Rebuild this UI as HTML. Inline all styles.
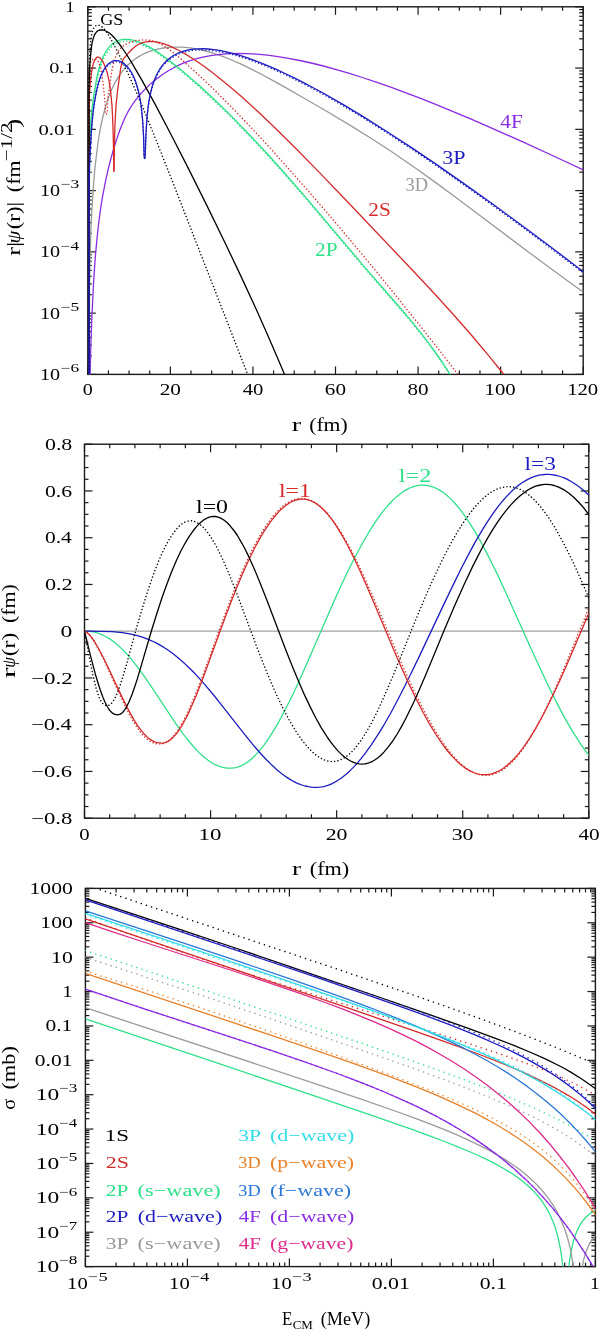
<!DOCTYPE html>
<html><head><meta charset="utf-8"><title>Figure</title><style>html,body{margin:0;padding:0;background:#fff;width:600px;height:1331px;overflow:hidden;}svg{display:block;font-family:"Liberation Serif",serif;font-kerning:none;will-change:transform;}text{font-kerning:none;}</style></head><body><svg width="600" height="1331" viewBox="0 0 600 1331"><defs><clipPath id="c1"><rect x="87.80" y="6.80" width="495.40" height="367.60"/></clipPath><clipPath id="c2"><rect x="84.50" y="444.20" width="504.30" height="374.00"/></clipPath><clipPath id="c3"><rect x="85.40" y="888.40" width="510.00" height="378.20"/></clipPath></defs><line x1="87.80" y1="374.40" x2="87.80" y2="366.40" stroke="#1a1a1a" stroke-width="1.20"/>
<line x1="87.80" y1="6.80" x2="87.80" y2="14.80" stroke="#1a1a1a" stroke-width="1.20"/>
<line x1="108.44" y1="374.40" x2="108.44" y2="370.40" stroke="#1a1a1a" stroke-width="1.20"/>
<line x1="108.44" y1="6.80" x2="108.44" y2="10.80" stroke="#1a1a1a" stroke-width="1.20"/>
<line x1="129.08" y1="374.40" x2="129.08" y2="370.40" stroke="#1a1a1a" stroke-width="1.20"/>
<line x1="129.08" y1="6.80" x2="129.08" y2="10.80" stroke="#1a1a1a" stroke-width="1.20"/>
<line x1="149.72" y1="374.40" x2="149.72" y2="370.40" stroke="#1a1a1a" stroke-width="1.20"/>
<line x1="149.72" y1="6.80" x2="149.72" y2="10.80" stroke="#1a1a1a" stroke-width="1.20"/>
<line x1="170.37" y1="374.40" x2="170.37" y2="366.40" stroke="#1a1a1a" stroke-width="1.20"/>
<line x1="170.37" y1="6.80" x2="170.37" y2="14.80" stroke="#1a1a1a" stroke-width="1.20"/>
<line x1="191.01" y1="374.40" x2="191.01" y2="370.40" stroke="#1a1a1a" stroke-width="1.20"/>
<line x1="191.01" y1="6.80" x2="191.01" y2="10.80" stroke="#1a1a1a" stroke-width="1.20"/>
<line x1="211.65" y1="374.40" x2="211.65" y2="370.40" stroke="#1a1a1a" stroke-width="1.20"/>
<line x1="211.65" y1="6.80" x2="211.65" y2="10.80" stroke="#1a1a1a" stroke-width="1.20"/>
<line x1="232.29" y1="374.40" x2="232.29" y2="370.40" stroke="#1a1a1a" stroke-width="1.20"/>
<line x1="232.29" y1="6.80" x2="232.29" y2="10.80" stroke="#1a1a1a" stroke-width="1.20"/>
<line x1="252.93" y1="374.40" x2="252.93" y2="366.40" stroke="#1a1a1a" stroke-width="1.20"/>
<line x1="252.93" y1="6.80" x2="252.93" y2="14.80" stroke="#1a1a1a" stroke-width="1.20"/>
<line x1="273.57" y1="374.40" x2="273.57" y2="370.40" stroke="#1a1a1a" stroke-width="1.20"/>
<line x1="273.57" y1="6.80" x2="273.57" y2="10.80" stroke="#1a1a1a" stroke-width="1.20"/>
<line x1="294.22" y1="374.40" x2="294.22" y2="370.40" stroke="#1a1a1a" stroke-width="1.20"/>
<line x1="294.22" y1="6.80" x2="294.22" y2="10.80" stroke="#1a1a1a" stroke-width="1.20"/>
<line x1="314.86" y1="374.40" x2="314.86" y2="370.40" stroke="#1a1a1a" stroke-width="1.20"/>
<line x1="314.86" y1="6.80" x2="314.86" y2="10.80" stroke="#1a1a1a" stroke-width="1.20"/>
<line x1="335.50" y1="374.40" x2="335.50" y2="366.40" stroke="#1a1a1a" stroke-width="1.20"/>
<line x1="335.50" y1="6.80" x2="335.50" y2="14.80" stroke="#1a1a1a" stroke-width="1.20"/>
<line x1="356.14" y1="374.40" x2="356.14" y2="370.40" stroke="#1a1a1a" stroke-width="1.20"/>
<line x1="356.14" y1="6.80" x2="356.14" y2="10.80" stroke="#1a1a1a" stroke-width="1.20"/>
<line x1="376.78" y1="374.40" x2="376.78" y2="370.40" stroke="#1a1a1a" stroke-width="1.20"/>
<line x1="376.78" y1="6.80" x2="376.78" y2="10.80" stroke="#1a1a1a" stroke-width="1.20"/>
<line x1="397.43" y1="374.40" x2="397.43" y2="370.40" stroke="#1a1a1a" stroke-width="1.20"/>
<line x1="397.43" y1="6.80" x2="397.43" y2="10.80" stroke="#1a1a1a" stroke-width="1.20"/>
<line x1="418.07" y1="374.40" x2="418.07" y2="366.40" stroke="#1a1a1a" stroke-width="1.20"/>
<line x1="418.07" y1="6.80" x2="418.07" y2="14.80" stroke="#1a1a1a" stroke-width="1.20"/>
<line x1="438.71" y1="374.40" x2="438.71" y2="370.40" stroke="#1a1a1a" stroke-width="1.20"/>
<line x1="438.71" y1="6.80" x2="438.71" y2="10.80" stroke="#1a1a1a" stroke-width="1.20"/>
<line x1="459.35" y1="374.40" x2="459.35" y2="370.40" stroke="#1a1a1a" stroke-width="1.20"/>
<line x1="459.35" y1="6.80" x2="459.35" y2="10.80" stroke="#1a1a1a" stroke-width="1.20"/>
<line x1="479.99" y1="374.40" x2="479.99" y2="370.40" stroke="#1a1a1a" stroke-width="1.20"/>
<line x1="479.99" y1="6.80" x2="479.99" y2="10.80" stroke="#1a1a1a" stroke-width="1.20"/>
<line x1="500.63" y1="374.40" x2="500.63" y2="366.40" stroke="#1a1a1a" stroke-width="1.20"/>
<line x1="500.63" y1="6.80" x2="500.63" y2="14.80" stroke="#1a1a1a" stroke-width="1.20"/>
<line x1="521.27" y1="374.40" x2="521.27" y2="370.40" stroke="#1a1a1a" stroke-width="1.20"/>
<line x1="521.27" y1="6.80" x2="521.27" y2="10.80" stroke="#1a1a1a" stroke-width="1.20"/>
<line x1="541.92" y1="374.40" x2="541.92" y2="370.40" stroke="#1a1a1a" stroke-width="1.20"/>
<line x1="541.92" y1="6.80" x2="541.92" y2="10.80" stroke="#1a1a1a" stroke-width="1.20"/>
<line x1="562.56" y1="374.40" x2="562.56" y2="370.40" stroke="#1a1a1a" stroke-width="1.20"/>
<line x1="562.56" y1="6.80" x2="562.56" y2="10.80" stroke="#1a1a1a" stroke-width="1.20"/>
<line x1="583.20" y1="374.40" x2="583.20" y2="366.40" stroke="#1a1a1a" stroke-width="1.20"/>
<line x1="583.20" y1="6.80" x2="583.20" y2="14.80" stroke="#1a1a1a" stroke-width="1.20"/>
<line x1="87.80" y1="374.40" x2="95.80" y2="374.40" stroke="#1a1a1a" stroke-width="1.20"/>
<line x1="583.20" y1="374.40" x2="575.20" y2="374.40" stroke="#1a1a1a" stroke-width="1.20"/>
<line x1="87.80" y1="355.96" x2="91.80" y2="355.96" stroke="#1a1a1a" stroke-width="1.20"/>
<line x1="583.20" y1="355.96" x2="579.20" y2="355.96" stroke="#1a1a1a" stroke-width="1.20"/>
<line x1="87.80" y1="345.17" x2="91.80" y2="345.17" stroke="#1a1a1a" stroke-width="1.20"/>
<line x1="583.20" y1="345.17" x2="579.20" y2="345.17" stroke="#1a1a1a" stroke-width="1.20"/>
<line x1="87.80" y1="337.51" x2="91.80" y2="337.51" stroke="#1a1a1a" stroke-width="1.20"/>
<line x1="583.20" y1="337.51" x2="579.20" y2="337.51" stroke="#1a1a1a" stroke-width="1.20"/>
<line x1="87.80" y1="331.58" x2="91.80" y2="331.58" stroke="#1a1a1a" stroke-width="1.20"/>
<line x1="583.20" y1="331.58" x2="579.20" y2="331.58" stroke="#1a1a1a" stroke-width="1.20"/>
<line x1="87.80" y1="326.73" x2="91.80" y2="326.73" stroke="#1a1a1a" stroke-width="1.20"/>
<line x1="583.20" y1="326.73" x2="579.20" y2="326.73" stroke="#1a1a1a" stroke-width="1.20"/>
<line x1="87.80" y1="322.62" x2="91.80" y2="322.62" stroke="#1a1a1a" stroke-width="1.20"/>
<line x1="583.20" y1="322.62" x2="579.20" y2="322.62" stroke="#1a1a1a" stroke-width="1.20"/>
<line x1="87.80" y1="319.07" x2="91.80" y2="319.07" stroke="#1a1a1a" stroke-width="1.20"/>
<line x1="583.20" y1="319.07" x2="579.20" y2="319.07" stroke="#1a1a1a" stroke-width="1.20"/>
<line x1="87.80" y1="315.94" x2="91.80" y2="315.94" stroke="#1a1a1a" stroke-width="1.20"/>
<line x1="583.20" y1="315.94" x2="579.20" y2="315.94" stroke="#1a1a1a" stroke-width="1.20"/>
<line x1="87.80" y1="313.13" x2="95.80" y2="313.13" stroke="#1a1a1a" stroke-width="1.20"/>
<line x1="583.20" y1="313.13" x2="575.20" y2="313.13" stroke="#1a1a1a" stroke-width="1.20"/>
<line x1="87.80" y1="294.69" x2="91.80" y2="294.69" stroke="#1a1a1a" stroke-width="1.20"/>
<line x1="583.20" y1="294.69" x2="579.20" y2="294.69" stroke="#1a1a1a" stroke-width="1.20"/>
<line x1="87.80" y1="283.90" x2="91.80" y2="283.90" stroke="#1a1a1a" stroke-width="1.20"/>
<line x1="583.20" y1="283.90" x2="579.20" y2="283.90" stroke="#1a1a1a" stroke-width="1.20"/>
<line x1="87.80" y1="276.25" x2="91.80" y2="276.25" stroke="#1a1a1a" stroke-width="1.20"/>
<line x1="583.20" y1="276.25" x2="579.20" y2="276.25" stroke="#1a1a1a" stroke-width="1.20"/>
<line x1="87.80" y1="270.31" x2="91.80" y2="270.31" stroke="#1a1a1a" stroke-width="1.20"/>
<line x1="583.20" y1="270.31" x2="579.20" y2="270.31" stroke="#1a1a1a" stroke-width="1.20"/>
<line x1="87.80" y1="265.46" x2="91.80" y2="265.46" stroke="#1a1a1a" stroke-width="1.20"/>
<line x1="583.20" y1="265.46" x2="579.20" y2="265.46" stroke="#1a1a1a" stroke-width="1.20"/>
<line x1="87.80" y1="261.36" x2="91.80" y2="261.36" stroke="#1a1a1a" stroke-width="1.20"/>
<line x1="583.20" y1="261.36" x2="579.20" y2="261.36" stroke="#1a1a1a" stroke-width="1.20"/>
<line x1="87.80" y1="257.80" x2="91.80" y2="257.80" stroke="#1a1a1a" stroke-width="1.20"/>
<line x1="583.20" y1="257.80" x2="579.20" y2="257.80" stroke="#1a1a1a" stroke-width="1.20"/>
<line x1="87.80" y1="254.67" x2="91.80" y2="254.67" stroke="#1a1a1a" stroke-width="1.20"/>
<line x1="583.20" y1="254.67" x2="579.20" y2="254.67" stroke="#1a1a1a" stroke-width="1.20"/>
<line x1="87.80" y1="251.87" x2="95.80" y2="251.87" stroke="#1a1a1a" stroke-width="1.20"/>
<line x1="583.20" y1="251.87" x2="575.20" y2="251.87" stroke="#1a1a1a" stroke-width="1.20"/>
<line x1="87.80" y1="233.42" x2="91.80" y2="233.42" stroke="#1a1a1a" stroke-width="1.20"/>
<line x1="583.20" y1="233.42" x2="579.20" y2="233.42" stroke="#1a1a1a" stroke-width="1.20"/>
<line x1="87.80" y1="222.64" x2="91.80" y2="222.64" stroke="#1a1a1a" stroke-width="1.20"/>
<line x1="583.20" y1="222.64" x2="579.20" y2="222.64" stroke="#1a1a1a" stroke-width="1.20"/>
<line x1="87.80" y1="214.98" x2="91.80" y2="214.98" stroke="#1a1a1a" stroke-width="1.20"/>
<line x1="583.20" y1="214.98" x2="579.20" y2="214.98" stroke="#1a1a1a" stroke-width="1.20"/>
<line x1="87.80" y1="209.04" x2="91.80" y2="209.04" stroke="#1a1a1a" stroke-width="1.20"/>
<line x1="583.20" y1="209.04" x2="579.20" y2="209.04" stroke="#1a1a1a" stroke-width="1.20"/>
<line x1="87.80" y1="204.19" x2="91.80" y2="204.19" stroke="#1a1a1a" stroke-width="1.20"/>
<line x1="583.20" y1="204.19" x2="579.20" y2="204.19" stroke="#1a1a1a" stroke-width="1.20"/>
<line x1="87.80" y1="200.09" x2="91.80" y2="200.09" stroke="#1a1a1a" stroke-width="1.20"/>
<line x1="583.20" y1="200.09" x2="579.20" y2="200.09" stroke="#1a1a1a" stroke-width="1.20"/>
<line x1="87.80" y1="196.54" x2="91.80" y2="196.54" stroke="#1a1a1a" stroke-width="1.20"/>
<line x1="583.20" y1="196.54" x2="579.20" y2="196.54" stroke="#1a1a1a" stroke-width="1.20"/>
<line x1="87.80" y1="193.40" x2="91.80" y2="193.40" stroke="#1a1a1a" stroke-width="1.20"/>
<line x1="583.20" y1="193.40" x2="579.20" y2="193.40" stroke="#1a1a1a" stroke-width="1.20"/>
<line x1="87.80" y1="190.60" x2="95.80" y2="190.60" stroke="#1a1a1a" stroke-width="1.20"/>
<line x1="583.20" y1="190.60" x2="575.20" y2="190.60" stroke="#1a1a1a" stroke-width="1.20"/>
<line x1="87.80" y1="172.16" x2="91.80" y2="172.16" stroke="#1a1a1a" stroke-width="1.20"/>
<line x1="583.20" y1="172.16" x2="579.20" y2="172.16" stroke="#1a1a1a" stroke-width="1.20"/>
<line x1="87.80" y1="161.37" x2="91.80" y2="161.37" stroke="#1a1a1a" stroke-width="1.20"/>
<line x1="583.20" y1="161.37" x2="579.20" y2="161.37" stroke="#1a1a1a" stroke-width="1.20"/>
<line x1="87.80" y1="153.71" x2="91.80" y2="153.71" stroke="#1a1a1a" stroke-width="1.20"/>
<line x1="583.20" y1="153.71" x2="579.20" y2="153.71" stroke="#1a1a1a" stroke-width="1.20"/>
<line x1="87.80" y1="147.78" x2="91.80" y2="147.78" stroke="#1a1a1a" stroke-width="1.20"/>
<line x1="583.20" y1="147.78" x2="579.20" y2="147.78" stroke="#1a1a1a" stroke-width="1.20"/>
<line x1="87.80" y1="142.93" x2="91.80" y2="142.93" stroke="#1a1a1a" stroke-width="1.20"/>
<line x1="583.20" y1="142.93" x2="579.20" y2="142.93" stroke="#1a1a1a" stroke-width="1.20"/>
<line x1="87.80" y1="138.82" x2="91.80" y2="138.82" stroke="#1a1a1a" stroke-width="1.20"/>
<line x1="583.20" y1="138.82" x2="579.20" y2="138.82" stroke="#1a1a1a" stroke-width="1.20"/>
<line x1="87.80" y1="135.27" x2="91.80" y2="135.27" stroke="#1a1a1a" stroke-width="1.20"/>
<line x1="583.20" y1="135.27" x2="579.20" y2="135.27" stroke="#1a1a1a" stroke-width="1.20"/>
<line x1="87.80" y1="132.14" x2="91.80" y2="132.14" stroke="#1a1a1a" stroke-width="1.20"/>
<line x1="583.20" y1="132.14" x2="579.20" y2="132.14" stroke="#1a1a1a" stroke-width="1.20"/>
<line x1="87.80" y1="129.33" x2="95.80" y2="129.33" stroke="#1a1a1a" stroke-width="1.20"/>
<line x1="583.20" y1="129.33" x2="575.20" y2="129.33" stroke="#1a1a1a" stroke-width="1.20"/>
<line x1="87.80" y1="110.89" x2="91.80" y2="110.89" stroke="#1a1a1a" stroke-width="1.20"/>
<line x1="583.20" y1="110.89" x2="579.20" y2="110.89" stroke="#1a1a1a" stroke-width="1.20"/>
<line x1="87.80" y1="100.10" x2="91.80" y2="100.10" stroke="#1a1a1a" stroke-width="1.20"/>
<line x1="583.20" y1="100.10" x2="579.20" y2="100.10" stroke="#1a1a1a" stroke-width="1.20"/>
<line x1="87.80" y1="92.45" x2="91.80" y2="92.45" stroke="#1a1a1a" stroke-width="1.20"/>
<line x1="583.20" y1="92.45" x2="579.20" y2="92.45" stroke="#1a1a1a" stroke-width="1.20"/>
<line x1="87.80" y1="86.51" x2="91.80" y2="86.51" stroke="#1a1a1a" stroke-width="1.20"/>
<line x1="583.20" y1="86.51" x2="579.20" y2="86.51" stroke="#1a1a1a" stroke-width="1.20"/>
<line x1="87.80" y1="81.66" x2="91.80" y2="81.66" stroke="#1a1a1a" stroke-width="1.20"/>
<line x1="583.20" y1="81.66" x2="579.20" y2="81.66" stroke="#1a1a1a" stroke-width="1.20"/>
<line x1="87.80" y1="77.56" x2="91.80" y2="77.56" stroke="#1a1a1a" stroke-width="1.20"/>
<line x1="583.20" y1="77.56" x2="579.20" y2="77.56" stroke="#1a1a1a" stroke-width="1.20"/>
<line x1="87.80" y1="74.00" x2="91.80" y2="74.00" stroke="#1a1a1a" stroke-width="1.20"/>
<line x1="583.20" y1="74.00" x2="579.20" y2="74.00" stroke="#1a1a1a" stroke-width="1.20"/>
<line x1="87.80" y1="70.87" x2="91.80" y2="70.87" stroke="#1a1a1a" stroke-width="1.20"/>
<line x1="583.20" y1="70.87" x2="579.20" y2="70.87" stroke="#1a1a1a" stroke-width="1.20"/>
<line x1="87.80" y1="68.07" x2="95.80" y2="68.07" stroke="#1a1a1a" stroke-width="1.20"/>
<line x1="583.20" y1="68.07" x2="575.20" y2="68.07" stroke="#1a1a1a" stroke-width="1.20"/>
<line x1="87.80" y1="49.62" x2="91.80" y2="49.62" stroke="#1a1a1a" stroke-width="1.20"/>
<line x1="583.20" y1="49.62" x2="579.20" y2="49.62" stroke="#1a1a1a" stroke-width="1.20"/>
<line x1="87.80" y1="38.84" x2="91.80" y2="38.84" stroke="#1a1a1a" stroke-width="1.20"/>
<line x1="583.20" y1="38.84" x2="579.20" y2="38.84" stroke="#1a1a1a" stroke-width="1.20"/>
<line x1="87.80" y1="31.18" x2="91.80" y2="31.18" stroke="#1a1a1a" stroke-width="1.20"/>
<line x1="583.20" y1="31.18" x2="579.20" y2="31.18" stroke="#1a1a1a" stroke-width="1.20"/>
<line x1="87.80" y1="25.24" x2="91.80" y2="25.24" stroke="#1a1a1a" stroke-width="1.20"/>
<line x1="583.20" y1="25.24" x2="579.20" y2="25.24" stroke="#1a1a1a" stroke-width="1.20"/>
<line x1="87.80" y1="20.39" x2="91.80" y2="20.39" stroke="#1a1a1a" stroke-width="1.20"/>
<line x1="583.20" y1="20.39" x2="579.20" y2="20.39" stroke="#1a1a1a" stroke-width="1.20"/>
<line x1="87.80" y1="16.29" x2="91.80" y2="16.29" stroke="#1a1a1a" stroke-width="1.20"/>
<line x1="583.20" y1="16.29" x2="579.20" y2="16.29" stroke="#1a1a1a" stroke-width="1.20"/>
<line x1="87.80" y1="12.74" x2="91.80" y2="12.74" stroke="#1a1a1a" stroke-width="1.20"/>
<line x1="583.20" y1="12.74" x2="579.20" y2="12.74" stroke="#1a1a1a" stroke-width="1.20"/>
<line x1="87.80" y1="9.60" x2="91.80" y2="9.60" stroke="#1a1a1a" stroke-width="1.20"/>
<line x1="583.20" y1="9.60" x2="579.20" y2="9.60" stroke="#1a1a1a" stroke-width="1.20"/>
<line x1="87.80" y1="6.80" x2="95.80" y2="6.80" stroke="#1a1a1a" stroke-width="1.20"/>
<line x1="583.20" y1="6.80" x2="575.20" y2="6.80" stroke="#1a1a1a" stroke-width="1.20"/>
<rect x="87.80" y="6.80" width="495.40" height="367.60" fill="none" stroke="#1a1a1a" stroke-width="1.40"/>
<g clip-path="url(#c1)">
<path d="M89 420L89 304.3L89.9 263.7L90.9 230.9L91.7 213.4L92.6 198.6L93.6 184L94.8 169.5L96.1 157.8L97.7 145L99.3 134.4L100.9 125.5L102.6 118L105 108.4L107.4 100.5L109.9 93.8L112.3 88.1L115.5 81.6L118.8 76.3L122 71.7L125.3 67.8L129.3 63.7L133.4 60.3L138.3 56.9L143.1 54.2L148.8 51.7L154.5 49.9L160.2 48.6L163.4 48L167.5 47.5L174.8 47.1L182.1 47.2L190.2 47.9L197.5 49.1L205.7 51L213.8 53.3L222.7 56.4L231.6 60L240.6 63.9L250.3 68.6L260.9 74L272.2 80.1L285.2 87.4L306.3 99.5L325 110.3L351 125.9L373.7 140L394 153.3L416 168.5L435.4 182.4L456.6 197.9L528 251.7L554.8 271.6L575.1 286.3L622.4 319.9" fill="none" stroke="#9a9a9a" stroke-width="1.30" stroke-linejoin="round"/>
<path d="M89 420L89 440.9L89.6 403.8L90.2 373.7L90.8 347.1L91.7 320.9L93.4 285.6L94.4 269.9L95.5 254.5L96.9 239.7L98.5 224.7L100.1 212.2L101.7 201.5L103.4 192.1L105.8 179.9L108.2 169.2L110.7 159.5L113.1 150.7L116.4 140.1L119.6 130.7L122.9 122.4L125.3 117L128.5 110.8L131.8 105.5L135 100.8L139.9 94.8L144.8 89.4L150.5 83.9L156.1 79.2L161.8 75L168.3 70.8L174.8 67.2L182.1 63.7L189.4 60.9L196.7 58.6L204 56.8L212.2 55.3L220.3 54.3L229.2 53.6L238.1 53.4L247.1 53.6L256.8 54.1L267.4 55.2L277.9 56.6L288.5 58.3L299.8 60.5L311.2 63L323.4 66L336.4 69.6L349.4 73.4L362.4 77.5L376.2 82.1L390 86.9L404.6 92.3L420 98.2L436.3 104.6L452.5 111.3L469.5 118.4L486.6 125.8L523.9 142.4L562.1 160L622.4 188.4" fill="none" stroke="#8a2be2" stroke-width="1.30" stroke-linejoin="round"/>
<path d="M89.6 421.8L89.6 155.7L90.5 134.2L91.2 124.8L91.9 116.9L92.9 107.9L94 99.7L95.7 89.4L97.2 80.7L98.4 75.1L100.2 68.3L102 62.9L103.7 58.5L106.1 54L108.5 50.5L110.8 47.7L113.8 45.1L116.7 43.3L118.5 42.5L120.3 41.9L123.8 41.2L127.4 41.1L129.7 41.3L132.1 41.6L134.5 42.2L137.4 43L140.4 44.1L143.3 45.4L149.2 48.4L155.7 52.2L162.8 57L171.1 63.2L180 70.2L189.4 78.2L200.1 87.6L210.7 97.4L221.9 108.1L233.2 119.2L245 131.3L256.8 143.7L269.2 157.1L287.5 177.5L306.4 199.2L363.1 266.4L404.5 314L412.8 323.9L420.5 333.4L426.4 341.1L432.3 349L438.2 357.3L443.5 365L490.6 438.1" fill="none" stroke="#2fe08a" stroke-width="1.50" stroke-dasharray="0.01 3.4" stroke-linecap="round" stroke-linejoin="round"/>
<path d="M89 420L89 153.9L89.9 132.4L90.6 123L91.3 115.1L92.3 106.1L93.4 97.9L95.1 87.6L96.6 78.9L97.8 73.3L99.6 66.5L101.4 61.1L103.1 56.7L105.5 52.2L107.9 48.7L110.2 45.9L113.2 43.3L116.1 41.5L117.9 40.7L119.7 40.1L123.2 39.4L126.8 39.3L129.1 39.5L131.5 39.8L133.9 40.4L136.8 41.2L139.8 42.3L142.7 43.6L148.6 46.6L155.1 50.4L162.2 55.2L170.5 61.4L179.4 68.4L188.8 76.4L199.5 85.8L210.1 95.6L221.3 106.3L232.6 117.4L244.4 129.5L256.2 141.9L268.6 155.3L286.9 175.7L305.8 197.4L362.5 264.6L403.9 312.2L412.2 322.1L419.9 331.6L425.8 339.3L431.7 347.2L437.6 355.5L442.9 363.2L490 436.3" fill="none" stroke="#2fe08a" stroke-width="1.30" stroke-linejoin="round"/>
<path d="M89 420L89 72.2L89.6 67.1L90.2 63.4L91 61.1L91.6 60.2L92.1 59.7L93.1 59.1L94 58.9L95.1 59L96.1 59.4L96.9 60L97.8 60.9L98.5 62.1L99.2 63.6L100 65.9L100.8 69L102.2 76.8L103.3 85.1L104.4 96.4L105.1 104.8L105.5 113.3L106.5 114.0" fill="none" stroke="#d42a2a" stroke-width="1.50" stroke-dasharray="0.01 3.4" stroke-linecap="round" stroke-linejoin="round"/>
<path d="M106.5 114L107.3 112L107.7 101.8L108.3 95L109.3 88.9L111.1 75.2L112.7 66.5L114.3 60.2L115.3 57.5L116.3 55L117.5 52.7L118.6 50.8L120.1 48.9L121.3 47.6L123.7 45.7L126.1 44.3L129.1 42.9L132.7 41.6L136.3 40.7L140.5 40.1L144.1 39.9L147.7 40.1L150.7 40.5L153.7 41.1L156.1 41.9L159.1 43.2L162.1 44.7L165.7 47L169.3 49.5L172.9 52.2L178.3 56.7L185.5 63L200.6 76.7L216.8 92.3L234.2 109.9L251 127.4L269.6 147.5L289.4 169.6L309.9 192.8L331.5 217.9L353.7 244.2L375.9 271L398.7 299.1L418.6 323.9L438.4 349L495.8 423.4" fill="none" stroke="#d42a2a" stroke-width="1.50" stroke-dasharray="0.01 3.4" stroke-linecap="round" stroke-linejoin="round"/>
<path d="M89 420L89 101.1L89.6 90.8L90.4 81.4L91.6 71.8L92.4 67.4L93.2 64.1L94.2 61.2L95.1 59.4L96.1 58L96.7 57.4L97.4 57.1L98.1 57L98.8 57.2L100.1 58.1L101.5 59.6L102.5 61.1L103.9 63.7L105.3 66.9L106.4 70.2L107.5 73.9L109 80.6L110.2 88.3L111.2 96.8L112.1 107.1L112.6 117.7L113.1 131.5L113.6 151.8L113.8 171.1L113.9 171.7" fill="none" stroke="#d42a2a" stroke-width="1.30" stroke-linejoin="round"/>
<path d="M113.9 171.7L114.1 167.7L114.4 146.8L114.8 129.6L115.4 115.8L116.2 103.6L117.6 90.3L120.5 69.7L121.2 65.6L121.8 63L122.5 61L123.3 59.4L125.6 56.3L128.7 52.7L132.1 49.2L135.5 46.3L138.3 44.5L141 43.2L144.4 42.1L147.8 41.6L151.2 41.4L155.3 41.8L159.3 42.5L164.1 43.9L168.9 45.7L173.6 47.8L179.1 50.5L185.2 53.9L191.3 57.7L197.5 61.7L204.3 66.5L211.1 71.6L218.6 77.4L226 83.4L233.5 89.7L241.7 96.8L258.7 112.3L276.4 129.2L296.1 148.7L319.3 172.4L345.1 199.3L411.1 268.7L434.3 293.5L454 315.3L472.4 336.3L490.1 357.4L500.3 370L543.7 424.4" fill="none" stroke="#d42a2a" stroke-width="1.30" stroke-linejoin="round"/>
<path d="M89 420L89 69.6L89.6 56.4L90.2 46L91 38.4L92 33L92.6 30.9L93.2 29.1L94 27.7L94.8 26.6L95.8 25.8L96.8 25.3L98 25.1L99.3 25.3L100.8 25.9L102 26.8L103.5 28.2L105.3 30.3L107.2 33.1L109.2 36.3L114 44.7L120.4 57.4L127.6 72.6L134.3 87.6L142.1 105.6L155.2 137.9L172.9 182.5L285 470.1" fill="none" stroke="#000000" stroke-width="1.50" stroke-dasharray="0.01 3.4" stroke-linecap="round" stroke-linejoin="round"/>
<path d="M89 420L89 84.8L89.3 78.2L89.9 63.6L90.8 53.1L91.7 45.2L92.4 41.5L93.1 38.9L94 36.2L94.8 34.3L95.8 32.8L97 31.4L98.3 30.5L99.5 30L101.1 29.9L103 30L105.8 31L108.6 32.6L111.4 34.8L114.3 37.7L117.7 41.9L121.5 47L125.6 53L130.3 60.4L135.6 69.3L141.6 79.6L154.4 102.9L170.1 132.7L188.6 168.9L207.4 206.6L225 242.7L241 276.4L256.1 309.1L267.4 334.4L278 359L324 467.9" fill="none" stroke="#000000" stroke-width="1.30" stroke-linejoin="round"/>
<path d="M89 421.2L89 184.9L89.5 168.5L90.1 153.9L90.8 141.2L91.5 130.3L92.4 119.7L93.4 110.8L94.6 102.3L96.1 94.2L96.9 90.4L98.5 84.1L100.1 79.1L101.7 75L103.4 71.7L105 69.1L106.6 66.9L109 64.5L111.5 62.9L113.9 62L116.4 61.8L118.8 62.1L121.2 63L123.7 64.5L126.1 66.6L128.5 69.3L130.2 71.6L132.3 75.3L133.9 78.5L135.3 82L136.7 85.9L137.9 90.1L138.9 94.5L139.9 99.5L141.4 109.4L142.6 121L143.6 137.9L144.1 157.3L144.7 158.2" fill="none" stroke="#1c1cc0" stroke-width="1.50" stroke-dasharray="0.01 3.4" stroke-linecap="round" stroke-linejoin="round"/>
<path d="M144.7 158.2L145.2 157.3L145.9 136L146.4 126.6L147 118L147.7 111.5L148.5 105.7L149.3 100.4L150.3 95.3L151.5 90.1L152.9 85.4L154.4 81.1L156.2 76.9L157.8 73.7L160.2 69.7L162.6 66.3L165.1 63.5L167.5 61.2L170.8 58.6L174 56.4L178.1 54.4L181.3 53.1L185.4 51.8L189.4 50.9L194.3 50.2L199.2 49.9L204 50L208.9 50.2L214.6 50.9L220.3 51.8L226 52.9L232.5 54.5L239 56.4L246.3 58.7L253.6 61.3L260.9 64.1L269 67.4L277.1 71L285.2 74.7L294.2 79.1L303.1 83.6L312.8 88.7L322.6 94L342.9 105.6L364.8 118.8L387.5 133.2L411.9 149.1L437.1 166.1L463.9 184.8L492.3 205L519.9 225.2L549.1 246.9L573.5 265.4L622.4 302.8" fill="none" stroke="#1c1cc0" stroke-width="1.50" stroke-dasharray="0.01 3.4" stroke-linecap="round" stroke-linejoin="round"/>
<path d="M89 420L89 183.7L89.5 167.3L90.1 152.7L90.8 140L91.5 129.1L92.4 118.5L93.4 109.6L94.6 101.1L96.1 93L96.9 89.2L98.5 82.9L100.1 77.9L101.7 73.8L103.4 70.5L105.8 66.7L107.4 64.8L109.9 62.7L112.3 61.3L114.7 60.7L117.2 60.6L119.6 61.2L122 62.3L124.5 63.9L126.9 66.2L129.3 69.2L131 71.7L132.8 75L134.4 78.5L135.8 82.1L137 85.9L138.2 90.1L139.3 94.9L140.2 99.7L141.6 109.5L142.7 120.8L143.6 136.7L144.1 156.1L144.7 159.0" fill="none" stroke="#1c1cc0" stroke-width="1.30" stroke-linejoin="round"/>
<path d="M144.7 159L145.2 156.1L145.9 134.8L146.9 118.8L148.2 106.3L149 100.7L150 95.3L151.2 90.2L152.5 85.4L154 81L155.7 76.7L157.8 72.5L159.4 69.7L161.8 66.2L164.3 63.2L166.7 60.7L169.9 58L173.2 55.7L177.2 53.5L180.5 52.1L184.6 50.8L188.6 49.9L193.5 49.1L198.4 48.8L203.2 48.7L208.1 49L213.8 49.6L219.5 50.4L225.2 51.6L231.6 53.1L238.1 54.9L245.5 57.2L252.8 59.8L260.1 62.6L268.2 65.9L276.3 69.4L285.2 73.5L294.2 77.9L303.1 82.4L312.8 87.5L322.6 92.8L342.9 104.4L364.8 117.6L387.5 132L411.9 147.9L437.1 164.9L463.9 183.6L492.3 203.8L519.9 224L549.1 245.7L573.5 264.2L622.4 301.6" fill="none" stroke="#1c1cc0" stroke-width="1.30" stroke-linejoin="round"/>
</g>
<text transform="translate(65.43 12.36) scale(1.2076 1)" font-size="14.82" fill="#000" font-family='"Liberation Serif", serif'>1</text>
<text transform="translate(49.23 73.22) scale(1.3382 1)" font-size="15.12" fill="#000" font-family='"Liberation Serif", serif'>0.1</text>
<text transform="translate(38.41 134.79) scale(1.3657 1)" font-size="15.12" fill="#000" font-family='"Liberation Serif", serif'>0.01</text>
<text transform="translate(40.03 196.14) scale(1.2466 1)" font-size="16.15" fill="#000000" font-family='"Liberation Serif", serif'>10</text>
<text transform="translate(60.73 188.28) scale(1.4610 1)" font-size="12.00" fill="#000000" font-family='"Liberation Serif", serif'>−3</text>
<text transform="translate(40.03 257.41) scale(1.2466 1)" font-size="16.15" fill="#000000" font-family='"Liberation Serif", serif'>10</text>
<text transform="translate(60.75 249.55) scale(1.4267 1)" font-size="12.00" fill="#000000" font-family='"Liberation Serif", serif'>−4</text>
<text transform="translate(40.03 318.68) scale(1.2466 1)" font-size="16.15" fill="#000000" font-family='"Liberation Serif", serif'>10</text>
<text transform="translate(60.73 310.82) scale(1.4610 1)" font-size="12.00" fill="#000000" font-family='"Liberation Serif", serif'>−5</text>
<text transform="translate(40.03 379.94) scale(1.2466 1)" font-size="16.15" fill="#000000" font-family='"Liberation Serif", serif'>10</text>
<text transform="translate(60.73 372.08) scale(1.4472 1)" font-size="12.00" fill="#000000" font-family='"Liberation Serif", serif'>−6</text>
<text transform="translate(82.79 395.34) scale(1.2303 1)" font-size="16.30" fill="#000" font-family='"Liberation Serif", serif'>0</text>
<text transform="translate(159.68 395.34) scale(1.3031 1)" font-size="16.30" fill="#000" font-family='"Liberation Serif", serif'>20</text>
<text transform="translate(242.78 395.34) scale(1.2694 1)" font-size="16.30" fill="#000" font-family='"Liberation Serif", serif'>40</text>
<text transform="translate(324.84 395.34) scale(1.3018 1)" font-size="16.30" fill="#000" font-family='"Liberation Serif", serif'>60</text>
<text transform="translate(407.51 395.34) scale(1.2949 1)" font-size="16.30" fill="#000" font-family='"Liberation Serif", serif'>80</text>
<text transform="translate(484.56 395.34) scale(1.2724 1)" font-size="16.30" fill="#000" font-family='"Liberation Serif", serif'>100</text>
<text transform="translate(567.13 395.34) scale(1.2724 1)" font-size="16.30" fill="#000" font-family='"Liberation Serif", serif'>120</text>
<text transform="translate(291.63 430.80) scale(1.4879 1)" font-size="19.00" fill="#000" font-family='"Liberation Serif", serif'>r</text>
<text transform="translate(309.15 430.80) scale(1.1436 1)" font-size="19.00" fill="#000" font-family='"Liberation Serif", serif'>(fm)</text>
<text transform="translate(19.60 255.83) rotate(-90) scale(1.3819 1)" font-size="19.00" fill="#000" font-family='"Liberation Serif", serif'>r|</text>
<text transform="translate(19.60 243.53) rotate(-90) scale(1.0880 1)" font-size="19.00" fill="#000" font-family='"Liberation Serif", serif' font-style="italic">ψ</text>
<text transform="translate(19.60 229.30) rotate(-90) scale(1.2036 1)" font-size="19.00" fill="#000" font-family='"Liberation Serif", serif'>(r)|</text>
<text transform="translate(19.60 192.16) rotate(-90) scale(1.1520 1)" font-size="19.00" fill="#000" font-family='"Liberation Serif", serif'>(fm</text>
<text transform="translate(11.84 161.25) rotate(-90) scale(1.3203 1)" font-size="16.00" fill="#000" font-family='"Liberation Serif", serif'>−1/2</text>
<text transform="translate(19.60 127.68) rotate(-90) scale(1.4345 1)" font-size="19.00" fill="#000" font-family='"Liberation Serif", serif'>)</text>
<text transform="translate(100.16 25.23) scale(1.0452 1)" font-size="17.34" fill="#000000" font-family='"Liberation Serif", serif'>GS</text>
<text transform="translate(500.28 127.60) scale(1.1242 1)" font-size="18.94" fill="#8a2be2" font-family='"Liberation Serif", serif'>4F</text>
<text transform="translate(442.24 164.00) scale(1.2264 1)" font-size="18.02" fill="#1c1cc0" font-family='"Liberation Serif", serif'>3P</text>
<text transform="translate(405.41 191.36) scale(1.0132 1)" font-size="18.27" fill="#9a9a9a" font-family='"Liberation Serif", serif'>3D</text>
<text transform="translate(368.37 215.82) scale(1.1427 1)" font-size="18.60" fill="#d42a2a" font-family='"Liberation Serif", serif'>2S</text>
<text transform="translate(315.06 255.70) scale(1.1483 1)" font-size="18.63" fill="#2fe08a" font-family='"Liberation Serif", serif'>2P</text>
<line x1="84.50" y1="818.20" x2="84.50" y2="810.20" stroke="#1a1a1a" stroke-width="1.20"/>
<line x1="84.50" y1="444.20" x2="84.50" y2="452.20" stroke="#1a1a1a" stroke-width="1.20"/>
<line x1="109.72" y1="818.20" x2="109.72" y2="814.20" stroke="#1a1a1a" stroke-width="1.20"/>
<line x1="109.72" y1="444.20" x2="109.72" y2="448.20" stroke="#1a1a1a" stroke-width="1.20"/>
<line x1="134.93" y1="818.20" x2="134.93" y2="814.20" stroke="#1a1a1a" stroke-width="1.20"/>
<line x1="134.93" y1="444.20" x2="134.93" y2="448.20" stroke="#1a1a1a" stroke-width="1.20"/>
<line x1="160.14" y1="818.20" x2="160.14" y2="814.20" stroke="#1a1a1a" stroke-width="1.20"/>
<line x1="160.14" y1="444.20" x2="160.14" y2="448.20" stroke="#1a1a1a" stroke-width="1.20"/>
<line x1="185.36" y1="818.20" x2="185.36" y2="814.20" stroke="#1a1a1a" stroke-width="1.20"/>
<line x1="185.36" y1="444.20" x2="185.36" y2="448.20" stroke="#1a1a1a" stroke-width="1.20"/>
<line x1="210.57" y1="818.20" x2="210.57" y2="810.20" stroke="#1a1a1a" stroke-width="1.20"/>
<line x1="210.57" y1="444.20" x2="210.57" y2="452.20" stroke="#1a1a1a" stroke-width="1.20"/>
<line x1="235.79" y1="818.20" x2="235.79" y2="814.20" stroke="#1a1a1a" stroke-width="1.20"/>
<line x1="235.79" y1="444.20" x2="235.79" y2="448.20" stroke="#1a1a1a" stroke-width="1.20"/>
<line x1="261.00" y1="818.20" x2="261.00" y2="814.20" stroke="#1a1a1a" stroke-width="1.20"/>
<line x1="261.00" y1="444.20" x2="261.00" y2="448.20" stroke="#1a1a1a" stroke-width="1.20"/>
<line x1="286.22" y1="818.20" x2="286.22" y2="814.20" stroke="#1a1a1a" stroke-width="1.20"/>
<line x1="286.22" y1="444.20" x2="286.22" y2="448.20" stroke="#1a1a1a" stroke-width="1.20"/>
<line x1="311.44" y1="818.20" x2="311.44" y2="814.20" stroke="#1a1a1a" stroke-width="1.20"/>
<line x1="311.44" y1="444.20" x2="311.44" y2="448.20" stroke="#1a1a1a" stroke-width="1.20"/>
<line x1="336.65" y1="818.20" x2="336.65" y2="810.20" stroke="#1a1a1a" stroke-width="1.20"/>
<line x1="336.65" y1="444.20" x2="336.65" y2="452.20" stroke="#1a1a1a" stroke-width="1.20"/>
<line x1="361.86" y1="818.20" x2="361.86" y2="814.20" stroke="#1a1a1a" stroke-width="1.20"/>
<line x1="361.86" y1="444.20" x2="361.86" y2="448.20" stroke="#1a1a1a" stroke-width="1.20"/>
<line x1="387.08" y1="818.20" x2="387.08" y2="814.20" stroke="#1a1a1a" stroke-width="1.20"/>
<line x1="387.08" y1="444.20" x2="387.08" y2="448.20" stroke="#1a1a1a" stroke-width="1.20"/>
<line x1="412.29" y1="818.20" x2="412.29" y2="814.20" stroke="#1a1a1a" stroke-width="1.20"/>
<line x1="412.29" y1="444.20" x2="412.29" y2="448.20" stroke="#1a1a1a" stroke-width="1.20"/>
<line x1="437.51" y1="818.20" x2="437.51" y2="814.20" stroke="#1a1a1a" stroke-width="1.20"/>
<line x1="437.51" y1="444.20" x2="437.51" y2="448.20" stroke="#1a1a1a" stroke-width="1.20"/>
<line x1="462.72" y1="818.20" x2="462.72" y2="810.20" stroke="#1a1a1a" stroke-width="1.20"/>
<line x1="462.72" y1="444.20" x2="462.72" y2="452.20" stroke="#1a1a1a" stroke-width="1.20"/>
<line x1="487.94" y1="818.20" x2="487.94" y2="814.20" stroke="#1a1a1a" stroke-width="1.20"/>
<line x1="487.94" y1="444.20" x2="487.94" y2="448.20" stroke="#1a1a1a" stroke-width="1.20"/>
<line x1="513.15" y1="818.20" x2="513.15" y2="814.20" stroke="#1a1a1a" stroke-width="1.20"/>
<line x1="513.15" y1="444.20" x2="513.15" y2="448.20" stroke="#1a1a1a" stroke-width="1.20"/>
<line x1="538.37" y1="818.20" x2="538.37" y2="814.20" stroke="#1a1a1a" stroke-width="1.20"/>
<line x1="538.37" y1="444.20" x2="538.37" y2="448.20" stroke="#1a1a1a" stroke-width="1.20"/>
<line x1="563.58" y1="818.20" x2="563.58" y2="814.20" stroke="#1a1a1a" stroke-width="1.20"/>
<line x1="563.58" y1="444.20" x2="563.58" y2="448.20" stroke="#1a1a1a" stroke-width="1.20"/>
<line x1="588.80" y1="818.20" x2="588.80" y2="810.20" stroke="#1a1a1a" stroke-width="1.20"/>
<line x1="588.80" y1="444.20" x2="588.80" y2="452.20" stroke="#1a1a1a" stroke-width="1.20"/>
<line x1="84.50" y1="818.20" x2="92.50" y2="818.20" stroke="#1a1a1a" stroke-width="1.20"/>
<line x1="588.80" y1="818.20" x2="580.80" y2="818.20" stroke="#1a1a1a" stroke-width="1.20"/>
<line x1="84.50" y1="806.51" x2="88.50" y2="806.51" stroke="#1a1a1a" stroke-width="1.20"/>
<line x1="588.80" y1="806.51" x2="584.80" y2="806.51" stroke="#1a1a1a" stroke-width="1.20"/>
<line x1="84.50" y1="794.83" x2="88.50" y2="794.83" stroke="#1a1a1a" stroke-width="1.20"/>
<line x1="588.80" y1="794.83" x2="584.80" y2="794.83" stroke="#1a1a1a" stroke-width="1.20"/>
<line x1="84.50" y1="783.14" x2="88.50" y2="783.14" stroke="#1a1a1a" stroke-width="1.20"/>
<line x1="588.80" y1="783.14" x2="584.80" y2="783.14" stroke="#1a1a1a" stroke-width="1.20"/>
<line x1="84.50" y1="771.45" x2="92.50" y2="771.45" stroke="#1a1a1a" stroke-width="1.20"/>
<line x1="588.80" y1="771.45" x2="580.80" y2="771.45" stroke="#1a1a1a" stroke-width="1.20"/>
<line x1="84.50" y1="759.76" x2="88.50" y2="759.76" stroke="#1a1a1a" stroke-width="1.20"/>
<line x1="588.80" y1="759.76" x2="584.80" y2="759.76" stroke="#1a1a1a" stroke-width="1.20"/>
<line x1="84.50" y1="748.08" x2="88.50" y2="748.08" stroke="#1a1a1a" stroke-width="1.20"/>
<line x1="588.80" y1="748.08" x2="584.80" y2="748.08" stroke="#1a1a1a" stroke-width="1.20"/>
<line x1="84.50" y1="736.39" x2="88.50" y2="736.39" stroke="#1a1a1a" stroke-width="1.20"/>
<line x1="588.80" y1="736.39" x2="584.80" y2="736.39" stroke="#1a1a1a" stroke-width="1.20"/>
<line x1="84.50" y1="724.70" x2="92.50" y2="724.70" stroke="#1a1a1a" stroke-width="1.20"/>
<line x1="588.80" y1="724.70" x2="580.80" y2="724.70" stroke="#1a1a1a" stroke-width="1.20"/>
<line x1="84.50" y1="713.01" x2="88.50" y2="713.01" stroke="#1a1a1a" stroke-width="1.20"/>
<line x1="588.80" y1="713.01" x2="584.80" y2="713.01" stroke="#1a1a1a" stroke-width="1.20"/>
<line x1="84.50" y1="701.33" x2="88.50" y2="701.33" stroke="#1a1a1a" stroke-width="1.20"/>
<line x1="588.80" y1="701.33" x2="584.80" y2="701.33" stroke="#1a1a1a" stroke-width="1.20"/>
<line x1="84.50" y1="689.64" x2="88.50" y2="689.64" stroke="#1a1a1a" stroke-width="1.20"/>
<line x1="588.80" y1="689.64" x2="584.80" y2="689.64" stroke="#1a1a1a" stroke-width="1.20"/>
<line x1="84.50" y1="677.95" x2="92.50" y2="677.95" stroke="#1a1a1a" stroke-width="1.20"/>
<line x1="588.80" y1="677.95" x2="580.80" y2="677.95" stroke="#1a1a1a" stroke-width="1.20"/>
<line x1="84.50" y1="666.26" x2="88.50" y2="666.26" stroke="#1a1a1a" stroke-width="1.20"/>
<line x1="588.80" y1="666.26" x2="584.80" y2="666.26" stroke="#1a1a1a" stroke-width="1.20"/>
<line x1="84.50" y1="654.58" x2="88.50" y2="654.58" stroke="#1a1a1a" stroke-width="1.20"/>
<line x1="588.80" y1="654.58" x2="584.80" y2="654.58" stroke="#1a1a1a" stroke-width="1.20"/>
<line x1="84.50" y1="642.89" x2="88.50" y2="642.89" stroke="#1a1a1a" stroke-width="1.20"/>
<line x1="588.80" y1="642.89" x2="584.80" y2="642.89" stroke="#1a1a1a" stroke-width="1.20"/>
<line x1="84.50" y1="631.20" x2="92.50" y2="631.20" stroke="#1a1a1a" stroke-width="1.20"/>
<line x1="588.80" y1="631.20" x2="580.80" y2="631.20" stroke="#1a1a1a" stroke-width="1.20"/>
<line x1="84.50" y1="619.51" x2="88.50" y2="619.51" stroke="#1a1a1a" stroke-width="1.20"/>
<line x1="588.80" y1="619.51" x2="584.80" y2="619.51" stroke="#1a1a1a" stroke-width="1.20"/>
<line x1="84.50" y1="607.83" x2="88.50" y2="607.83" stroke="#1a1a1a" stroke-width="1.20"/>
<line x1="588.80" y1="607.83" x2="584.80" y2="607.83" stroke="#1a1a1a" stroke-width="1.20"/>
<line x1="84.50" y1="596.14" x2="88.50" y2="596.14" stroke="#1a1a1a" stroke-width="1.20"/>
<line x1="588.80" y1="596.14" x2="584.80" y2="596.14" stroke="#1a1a1a" stroke-width="1.20"/>
<line x1="84.50" y1="584.45" x2="92.50" y2="584.45" stroke="#1a1a1a" stroke-width="1.20"/>
<line x1="588.80" y1="584.45" x2="580.80" y2="584.45" stroke="#1a1a1a" stroke-width="1.20"/>
<line x1="84.50" y1="572.76" x2="88.50" y2="572.76" stroke="#1a1a1a" stroke-width="1.20"/>
<line x1="588.80" y1="572.76" x2="584.80" y2="572.76" stroke="#1a1a1a" stroke-width="1.20"/>
<line x1="84.50" y1="561.08" x2="88.50" y2="561.08" stroke="#1a1a1a" stroke-width="1.20"/>
<line x1="588.80" y1="561.08" x2="584.80" y2="561.08" stroke="#1a1a1a" stroke-width="1.20"/>
<line x1="84.50" y1="549.39" x2="88.50" y2="549.39" stroke="#1a1a1a" stroke-width="1.20"/>
<line x1="588.80" y1="549.39" x2="584.80" y2="549.39" stroke="#1a1a1a" stroke-width="1.20"/>
<line x1="84.50" y1="537.70" x2="92.50" y2="537.70" stroke="#1a1a1a" stroke-width="1.20"/>
<line x1="588.80" y1="537.70" x2="580.80" y2="537.70" stroke="#1a1a1a" stroke-width="1.20"/>
<line x1="84.50" y1="526.01" x2="88.50" y2="526.01" stroke="#1a1a1a" stroke-width="1.20"/>
<line x1="588.80" y1="526.01" x2="584.80" y2="526.01" stroke="#1a1a1a" stroke-width="1.20"/>
<line x1="84.50" y1="514.33" x2="88.50" y2="514.33" stroke="#1a1a1a" stroke-width="1.20"/>
<line x1="588.80" y1="514.33" x2="584.80" y2="514.33" stroke="#1a1a1a" stroke-width="1.20"/>
<line x1="84.50" y1="502.64" x2="88.50" y2="502.64" stroke="#1a1a1a" stroke-width="1.20"/>
<line x1="588.80" y1="502.64" x2="584.80" y2="502.64" stroke="#1a1a1a" stroke-width="1.20"/>
<line x1="84.50" y1="490.95" x2="92.50" y2="490.95" stroke="#1a1a1a" stroke-width="1.20"/>
<line x1="588.80" y1="490.95" x2="580.80" y2="490.95" stroke="#1a1a1a" stroke-width="1.20"/>
<line x1="84.50" y1="479.26" x2="88.50" y2="479.26" stroke="#1a1a1a" stroke-width="1.20"/>
<line x1="588.80" y1="479.26" x2="584.80" y2="479.26" stroke="#1a1a1a" stroke-width="1.20"/>
<line x1="84.50" y1="467.57" x2="88.50" y2="467.57" stroke="#1a1a1a" stroke-width="1.20"/>
<line x1="588.80" y1="467.57" x2="584.80" y2="467.57" stroke="#1a1a1a" stroke-width="1.20"/>
<line x1="84.50" y1="455.89" x2="88.50" y2="455.89" stroke="#1a1a1a" stroke-width="1.20"/>
<line x1="588.80" y1="455.89" x2="584.80" y2="455.89" stroke="#1a1a1a" stroke-width="1.20"/>
<line x1="84.50" y1="444.20" x2="92.50" y2="444.20" stroke="#1a1a1a" stroke-width="1.20"/>
<line x1="588.80" y1="444.20" x2="580.80" y2="444.20" stroke="#1a1a1a" stroke-width="1.20"/>
<line x1="84.50" y1="631.20" x2="588.80" y2="631.20" stroke="#a0a0a0" stroke-width="1.20"/>
<rect x="84.50" y="444.20" width="504.30" height="374.00" fill="none" stroke="#1a1a1a" stroke-width="1.40"/>
<g clip-path="url(#c2)">
<path d="M84.5 631.2L89.5 631.4L94.6 632.2L97.1 632.9L99.6 633.7L102.2 634.8L104.7 636L109.7 638.9L114.8 642.5L119.8 646.9L124.8 651.9L129.3 656.8L133.7 662.1L138.1 667.8L143.1 674.7L152 687.6L172.8 719.1L178.4 727.3L183.5 734.3L188.5 740.8L193.6 746.7L198.6 752.1L203 756.3L208.1 760.3L212.5 763.2L215 764.6L217.5 765.7L221.9 767.2L224.4 767.7L226.3 768L228.9 768.2L232 768.2L235.8 767.6L237.7 767.1L240.2 766.2L242.1 765.4L244.6 764L247.1 762.4L249.7 760.5L254.1 756.5L256.6 753.9L259.1 751.1L264.2 744.8L269.2 737.6L274.2 729.6L279.3 720.8L283.7 712.6L288.1 704L293.2 693.7L298.2 682.9L308.3 660.3L332.9 603.8L340.4 587L347.4 572.3L354.9 557.2L361.9 544.2L368.8 532.2L375.1 522.4L378.9 516.9L382 512.7L385.8 507.9L389 504.3L392.8 500.3L395.9 497.4L399.7 494.2L402.8 491.9L406.6 489.6L409.8 488L412.9 486.8L416.1 485.9L419.9 485.2L423 485.1L426.2 485.3L429.3 485.9L431.8 486.6L434.4 487.5L436.9 488.7L440 490.4L442.6 492.1L445.7 494.5L448.2 496.6L451.4 499.6L453.9 502.2L457.1 505.8L460.2 509.7L463.4 513.8L469 522.1L475.3 532.2L480.4 541L486 551.6L491.7 562.7L497.4 574.4L508.7 598.9L530.2 646.7L539 666L547.8 684.8L556 701.4L564.8 718.1L569.3 725.9L573 732.2L577.5 739.2L581.2 744.9L585 750.2L588.8 755.1" fill="none" stroke="#2fe08a" stroke-width="1.30" stroke-linejoin="round"/>
<path d="M84.5 631.2L100.9 631.3L112.2 631.7L117.3 632.1L122.3 632.7L126.7 633.3L131.1 634.2L135.6 635.2L140 636.4L144.4 637.9L148.8 639.6L153.2 641.5L157 643.4L161.4 645.9L165.2 648.2L169 650.8L172.8 653.5L176.5 656.5L180.9 660.2L184.7 663.6L189.1 667.8L193.6 672.2L198 676.9L205.5 685.4L214.4 696L222.6 706.3L243.4 732.9L254.7 746.8L261 754L266.7 760L272.4 765.6L277.4 770.2L283.7 775.2L286.9 777.4L290 779.4L293.2 781.2L296.3 782.8L299.5 784.1L302 785L305.1 786L308.3 786.7L311.4 787.1L314 787.3L317.1 787.3L319.6 787.1L322.2 786.8L325.3 786.1L328.5 785.1L331.6 783.8L334.8 782.2L337.9 780.3L341.1 778.2L344.2 775.8L347.4 773.2L351.1 769.6L354.3 766.4L357.5 762.9L360.6 759.2L364.4 754.4L371.3 744.8L378.3 734.2L384.6 723.8L390.9 712.7L397.8 699.8L404.7 686.3L411 673.5L418.6 657.9L444.4 603.1L453.3 584.6L462.1 566.8L470.3 551.1L475.3 541.9L479.7 534.3L484.8 525.9L489.2 519.1L493.6 512.7L498 506.7L502.4 501.2L506.2 496.9L511.3 491.6L516.3 487.1L521.3 483.3L526.4 480.1L531.4 477.6L534 476.7L536.5 475.9L539 475.2L541.5 474.8L544 474.5L546.6 474.4L549.1 474.4L551.6 474.6L556.7 475.5L561.7 477L564.2 477.9L567.4 479.4L572.4 482.2L578.1 486L583.1 489.9L588.8 495.0" fill="none" stroke="#1c1cc0" stroke-width="1.30" stroke-linejoin="round"/>
<path d="M84.5 631.2L85.8 631.7L87 632.6L88.3 633.8L90.2 635.9L92.1 638.4L94 641.3L97.7 647.7L101.5 655L105.3 662.8L119.8 694.8L126.7 709.3L129.9 715.3L133 720.9L136.2 726.1L139.3 730.6L143.1 735.3L146.3 738.4L149.4 740.9L152.6 742.6L154.5 743.3L156.4 743.7L159.5 744L160.8 744L163.3 743.6L164.6 743.1L166.4 742.2L169 740.5L171.5 738.2L174 735.4L177.2 731.3L179.7 727.4L182.8 721.9L186 715.8L189.1 709.1L194.8 695.9L200.5 681.4L206.2 666.1L224.4 615.8L230.7 599.2L236.4 584.9L242.7 570.1L249 556.3L254.7 545L260.4 534.8L263.5 529.6L266.7 524.8L269.8 520.4L273 516.3L276.1 512.6L279.3 509.3L282.4 506.5L285 504.5L288.1 502.4L291.3 500.7L294.4 499.5L296.9 498.8L299.5 498.4L302.6 498.4L305.8 498.8L308.9 499.7L310.8 500.4L313.3 501.6L315.8 503.1L318.4 504.9L322.8 508.7L325.3 511.2L327.8 514L332.9 520.3L337.9 527.4L343 535.5L348 544.3L352.4 552.6L356.8 561.4L361.9 572L366.9 583L376.4 604.5L399.1 657.7L406 673.3L412.9 688.3L419.9 702.6L426.8 715.9L433.1 727.1L439.4 737.3L445.7 746.5L448.9 750.7L452 754.6L455.2 758.1L458.3 761.4L461.5 764.4L464 766.5L467.1 768.8L470.3 770.9L473.4 772.5L476 773.6L479.1 774.6L481.6 775.1L484.8 775.4L487.3 775.4L490.5 775L493 774.4L495.5 773.6L498 772.5L500.5 771.2L503.1 769.6L505.6 767.8L508.7 765.2L511.3 762.8L513.8 760.2L516.3 757.4L519.5 753.5L525.1 745.7L530.8 736.9L536.5 727L542.2 716.3L547.8 704.7L554.1 691.1L559.8 678.2L566.7 661.9L588.8 608.1" fill="none" stroke="#d42a2a" stroke-width="1.50" stroke-dasharray="0.01 3.4" stroke-linecap="round" stroke-linejoin="round"/>
<path d="M84.5 631.2L85.8 631.7L87 632.5L88.3 633.7L90.2 635.7L92.1 638.1L94 640.9L97.7 647L101.5 654L105.3 661.5L121.1 695.1L127.4 707.9L131.1 714.9L134.3 720.4L137.5 725.3L140.6 729.7L144.4 734.3L147.5 737.4L149.4 738.9L151.3 740.2L154.5 741.8L156.4 742.4L157.6 742.7L161.4 743.1L162.7 743.1L165.2 742.6L166.4 742.2L168.3 741.2L170.9 739.4L173.4 737.1L175.9 734.3L179.1 730L181.6 726.1L184.7 720.5L187.9 714.4L191 707.6L196.1 695.8L201.7 681.4L207.4 666.1L225.1 617.5L231.4 600.9L237.1 586.7L243.4 571.8L249.7 558L255.3 546.7L261 536.4L264.2 531.2L267.3 526.3L270.5 521.8L273.6 517.7L276.8 514L279.9 510.6L283.1 507.7L286.2 505.1L289.4 503L292.5 501.3L295.7 500.1L298.2 499.5L300.7 499.1L303.9 499.1L306.4 499.4L309.5 500.3L311.4 501L314 502.3L315.8 503.4L318.4 505.2L320.3 506.7L322.8 509L327.2 513.7L331.6 519.2L336.6 526.4L341.1 533.6L346.1 542.5L349.9 549.7L354.3 558.7L358.7 568L363.1 577.8L372 598.2L395.3 653.5L402.2 669.3L409.1 684.4L416.1 698.8L423 712.3L429.9 724.7L436.2 735L442.6 744.3L445.7 748.5L448.9 752.5L452 756.1L455.2 759.4L458.3 762.5L461.5 765.2L464.6 767.6L467.8 769.6L470.9 771.4L473.4 772.5L476.6 773.6L479.7 774.3L482.9 774.7L485.4 774.7L487.9 774.5L490.5 774.1L493 773.4L496.1 772.2L498.7 771L501.8 769.2L504.3 767.5L507.5 765L510 762.8L513.2 759.7L515.7 757L518.8 753.3L524.5 745.9L530.2 737.4L535.8 728.1L541.5 718L547.8 705.8L554.1 692.8L560.4 679.2L568 662.1L588.8 613.3" fill="none" stroke="#d42a2a" stroke-width="1.30" stroke-linejoin="round"/>
<path d="M84.5 631.2L88.9 655.4L92.7 674L94.6 682.2L95.8 687L97.1 691.4L98.4 695.2L99.6 698.4L100.9 701L102.2 703L103.4 704.3L104.7 705L105.3 705.1L106.6 705.5L107.8 705.6L109.1 705.2L109.7 704.9L111 703.9L112.9 701.6L114.1 699.6L115.4 697.2L117.9 691.4L120.4 684.5L123 676.5L125.5 667.9L133.7 637.9L138.1 622.4L142.5 607.5L146.3 595.3L150.7 582L154.5 571.5L158.9 560.4L162.7 551.9L167.1 543.1L169.6 538.8L171.5 535.8L174 532.2L175.9 529.8L178.4 527L180.3 525.2L182.8 523.3L184.7 522.2L186.6 521.5L188.5 521L190.4 520.8L192.3 520.9L194.2 521.4L196.7 522.4L199.2 523.9L202.4 526.5L205.5 529.8L208.7 533.9L211.8 538.6L215 543.9L218.1 549.8L221.9 557.6L227.6 570.4L233.9 586L240.2 602.4L257.2 647.9L262.9 662.5L268.6 676.4L274.2 689.6L279.9 701.9L285.6 713.3L290.6 722.5L296.3 731.9L299.5 736.6L302 740.1L305.1 744.1L307.7 747.1L310.2 749.8L312.7 752.2L315.8 754.9L318.4 756.7L320.9 758.3L323.4 759.5L325.9 760.5L328.5 761.1L331 761.5L333.5 761.5L336 761.2L337.9 760.7L339.8 760.1L341.7 759.3L343.6 758.3L345.5 757.1L347.4 755.7L349.9 753.6L353.7 749.8L358.1 744.4L362.5 738.2L366.9 731.1L370.7 724.4L375.1 715.9L379.5 706.7L383.9 697L392.8 676.3L414.2 623.5L425.5 596.4L431.2 583.5L436.9 571.2L441.9 560.7L447 550.7L452.6 540.2L458.3 530.5L464 521.6L469.7 513.6L475.3 506.5L480.4 501.1L483.5 498.1L486 495.9L488.6 494L491.1 492.3L494.2 490.4L496.8 489.2L499.9 488L502.4 487.4L505.6 486.8L508.1 486.7L511.3 486.9L513.8 487.3L516.3 488L519.5 489.2L522 490.4L525.1 492.3L527.7 494L530.8 496.6L533.3 498.9L536.5 502.1L539 504.9L542.2 508.8L545.3 512.9L548.5 517.4L554.1 526.3L560.4 537.3L566.7 549.3L573.7 563.6L580.6 578.8L588.8 597.8" fill="none" stroke="#000000" stroke-width="1.50" stroke-dasharray="0.01 3.4" stroke-linecap="round" stroke-linejoin="round"/>
<path d="M84.5 631.2L90.8 656.9L95.8 675.8L98.4 684.2L100.3 690L102.8 697L104.7 701.5L107.2 706.5L109.1 709.5L111 711.8L112.9 713.4L114.8 714.3L117.9 714.8L118.5 714.7L119.8 714.4L121.7 713.2L123 712L124.2 710.5L125.5 708.6L126.7 706.5L129.3 701.3L132.4 693.5L134.9 686.3L137.5 678.4L151.3 631.2L157 613L162 597.7L167.1 583.5L171.5 572.1L176.5 560.3L180.9 551L184.1 545L186.6 540.6L189.1 536.6L191.7 532.8L194.2 529.5L196.7 526.4L199.2 523.8L201.7 521.5L204.3 519.6L206.8 518.2L209.3 517.1L211.2 516.7L213.7 516.4L215.6 516.5L218.1 517.1L220.7 518.1L223.8 520L227 522.5L230.1 525.8L233.9 530.5L237.1 535L240.8 541.3L244 547L247.8 554.6L254.1 568.4L261 585.2L267.3 601.3L286.2 650.9L292.5 666.8L298.2 680.5L304.5 694.9L310.2 706.9L315.8 718L321.5 728.1L324.7 733.2L327.8 738L331 742.4L333.5 745.7L336.6 749.4L339.2 752.1L342.3 755.1L344.8 757.2L348 759.5L350.5 761L353.7 762.4L356.2 763.3L359.3 763.9L361.9 764.1L364.4 763.9L366.9 763.5L368.8 762.9L370.7 762.2L372.6 761.3L375.1 759.8L377 758.5L379.5 756.4L381.4 754.7L383.9 752.1L388.3 746.9L392.8 740.9L397.2 734L401.6 726.4L405.4 719.3L409.1 711.7L413.6 702.5L418 692.7L426.2 673.7L444.4 629.7L454.5 606L464 584.7L472.8 566.1L477.9 556.1L482.9 546.5L487.9 537.6L492.4 530.2L497.4 522.4L501.8 516.1L506.2 510.3L510.6 505.1L515.7 499.7L520.7 495.2L525.8 491.4L528.3 489.8L530.8 488.4L533.3 487.2L535.8 486.2L540.3 485L542.8 484.6L544.7 484.4L547.2 484.4L549.7 484.6L551.6 484.9L554.1 485.5L556.7 486.3L559.2 487.3L563.6 489.6L566.1 491.2L568.6 493L573.7 497.2L578.7 502.3L583.8 508L588.8 514.6" fill="none" stroke="#000000" stroke-width="1.30" stroke-linejoin="round"/>
</g>
<text transform="translate(31.17 823.84) scale(1.4190 1)" font-size="16.00" fill="#000" font-family='"Liberation Serif", serif'>−0.8</text>
<text transform="translate(31.17 777.09) scale(1.4122 1)" font-size="16.00" fill="#000" font-family='"Liberation Serif", serif'>−0.6</text>
<text transform="translate(31.18 730.34) scale(1.4008 1)" font-size="16.00" fill="#000" font-family='"Liberation Serif", serif'>−0.4</text>
<text transform="translate(31.16 683.59) scale(1.4332 1)" font-size="16.00" fill="#000" font-family='"Liberation Serif", serif'>−0.2</text>
<text transform="translate(60.60 636.84) scale(1.4742 1)" font-size="16.00" fill="#000" font-family='"Liberation Serif", serif'>0</text>
<text transform="translate(44.95 590.09) scale(1.3882 1)" font-size="16.00" fill="#000" font-family='"Liberation Serif", serif'>0.2</text>
<text transform="translate(44.98 543.34) scale(1.3423 1)" font-size="16.00" fill="#000" font-family='"Liberation Serif", serif'>0.4</text>
<text transform="translate(44.97 496.59) scale(1.3584 1)" font-size="16.00" fill="#000" font-family='"Liberation Serif", serif'>0.6</text>
<text transform="translate(44.97 449.84) scale(1.3680 1)" font-size="16.00" fill="#000" font-family='"Liberation Serif", serif'>0.8</text>
<text transform="translate(79.31 840.34) scale(1.2510 1)" font-size="16.60" fill="#000" font-family='"Liberation Serif", serif'>0</text>
<text transform="translate(198.56 840.34) scale(1.3787 1)" font-size="16.60" fill="#000" font-family='"Liberation Serif", serif'>10</text>
<text transform="translate(325.69 840.34) scale(1.3127 1)" font-size="16.60" fill="#000" font-family='"Liberation Serif", serif'>20</text>
<text transform="translate(451.68 840.34) scale(1.3183 1)" font-size="16.60" fill="#000" font-family='"Liberation Serif", serif'>30</text>
<text transform="translate(578.39 840.34) scale(1.2787 1)" font-size="16.60" fill="#000" font-family='"Liberation Serif", serif'>40</text>
<text transform="translate(291.95 875.00) scale(1.4360 1)" font-size="19.00" fill="#000" font-family='"Liberation Serif", serif'>r</text>
<text transform="translate(309.82 875.00) scale(1.1686 1)" font-size="19.00" fill="#000" font-family='"Liberation Serif", serif'>(fm)</text>
<text transform="translate(14.80 678.15) rotate(-90) scale(1.7129 1)" font-size="19.00" fill="#000" font-family='"Liberation Serif", serif'>r</text>
<text transform="translate(14.80 667.82) rotate(-90) scale(0.9051 1)" font-size="19.00" fill="#000" font-family='"Liberation Serif", serif' font-style="italic">ψ</text>
<text transform="translate(14.80 656.24) rotate(-90) scale(1.2419 1)" font-size="19.00" fill="#000" font-family='"Liberation Serif", serif'>(r)</text>
<text transform="translate(14.80 623.07) rotate(-90) scale(1.1561 1)" font-size="19.00" fill="#000" font-family='"Liberation Serif", serif'>(fm)</text>
<text transform="translate(196.02 512.60) scale(1.2922 1)" font-size="18.45" fill="#000000" font-family='"Liberation Serif", serif'>l=0</text>
<text transform="translate(279.02 496.60) scale(1.3093 1)" font-size="18.16" fill="#d42a2a" font-family='"Liberation Serif", serif'>l=1</text>
<text transform="translate(398.81 481.70) scale(1.3563 1)" font-size="17.87" fill="#2fe08a" font-family='"Liberation Serif", serif'>l=2</text>
<text transform="translate(524.53 470.00) scale(1.2778 1)" font-size="18.30" fill="#1c1cc0" font-family='"Liberation Serif", serif'>l=3</text>
<line x1="85.40" y1="1266.60" x2="85.40" y2="1258.60" stroke="#1a1a1a" stroke-width="1.20"/>
<line x1="85.40" y1="888.40" x2="85.40" y2="896.40" stroke="#1a1a1a" stroke-width="1.20"/>
<line x1="116.11" y1="1266.60" x2="116.11" y2="1262.60" stroke="#1a1a1a" stroke-width="1.20"/>
<line x1="116.11" y1="888.40" x2="116.11" y2="892.40" stroke="#1a1a1a" stroke-width="1.20"/>
<line x1="134.07" y1="1266.60" x2="134.07" y2="1262.60" stroke="#1a1a1a" stroke-width="1.20"/>
<line x1="134.07" y1="888.40" x2="134.07" y2="892.40" stroke="#1a1a1a" stroke-width="1.20"/>
<line x1="146.81" y1="1266.60" x2="146.81" y2="1262.60" stroke="#1a1a1a" stroke-width="1.20"/>
<line x1="146.81" y1="888.40" x2="146.81" y2="892.40" stroke="#1a1a1a" stroke-width="1.20"/>
<line x1="156.69" y1="1266.60" x2="156.69" y2="1262.60" stroke="#1a1a1a" stroke-width="1.20"/>
<line x1="156.69" y1="888.40" x2="156.69" y2="892.40" stroke="#1a1a1a" stroke-width="1.20"/>
<line x1="164.77" y1="1266.60" x2="164.77" y2="1262.60" stroke="#1a1a1a" stroke-width="1.20"/>
<line x1="164.77" y1="888.40" x2="164.77" y2="892.40" stroke="#1a1a1a" stroke-width="1.20"/>
<line x1="171.60" y1="1266.60" x2="171.60" y2="1262.60" stroke="#1a1a1a" stroke-width="1.20"/>
<line x1="171.60" y1="888.40" x2="171.60" y2="892.40" stroke="#1a1a1a" stroke-width="1.20"/>
<line x1="177.52" y1="1266.60" x2="177.52" y2="1262.60" stroke="#1a1a1a" stroke-width="1.20"/>
<line x1="177.52" y1="888.40" x2="177.52" y2="892.40" stroke="#1a1a1a" stroke-width="1.20"/>
<line x1="182.73" y1="1266.60" x2="182.73" y2="1262.60" stroke="#1a1a1a" stroke-width="1.20"/>
<line x1="182.73" y1="888.40" x2="182.73" y2="892.40" stroke="#1a1a1a" stroke-width="1.20"/>
<line x1="187.40" y1="1266.60" x2="187.40" y2="1258.60" stroke="#1a1a1a" stroke-width="1.20"/>
<line x1="187.40" y1="888.40" x2="187.40" y2="896.40" stroke="#1a1a1a" stroke-width="1.20"/>
<line x1="218.11" y1="1266.60" x2="218.11" y2="1262.60" stroke="#1a1a1a" stroke-width="1.20"/>
<line x1="218.11" y1="888.40" x2="218.11" y2="892.40" stroke="#1a1a1a" stroke-width="1.20"/>
<line x1="236.07" y1="1266.60" x2="236.07" y2="1262.60" stroke="#1a1a1a" stroke-width="1.20"/>
<line x1="236.07" y1="888.40" x2="236.07" y2="892.40" stroke="#1a1a1a" stroke-width="1.20"/>
<line x1="248.81" y1="1266.60" x2="248.81" y2="1262.60" stroke="#1a1a1a" stroke-width="1.20"/>
<line x1="248.81" y1="888.40" x2="248.81" y2="892.40" stroke="#1a1a1a" stroke-width="1.20"/>
<line x1="258.69" y1="1266.60" x2="258.69" y2="1262.60" stroke="#1a1a1a" stroke-width="1.20"/>
<line x1="258.69" y1="888.40" x2="258.69" y2="892.40" stroke="#1a1a1a" stroke-width="1.20"/>
<line x1="266.77" y1="1266.60" x2="266.77" y2="1262.60" stroke="#1a1a1a" stroke-width="1.20"/>
<line x1="266.77" y1="888.40" x2="266.77" y2="892.40" stroke="#1a1a1a" stroke-width="1.20"/>
<line x1="273.60" y1="1266.60" x2="273.60" y2="1262.60" stroke="#1a1a1a" stroke-width="1.20"/>
<line x1="273.60" y1="888.40" x2="273.60" y2="892.40" stroke="#1a1a1a" stroke-width="1.20"/>
<line x1="279.52" y1="1266.60" x2="279.52" y2="1262.60" stroke="#1a1a1a" stroke-width="1.20"/>
<line x1="279.52" y1="888.40" x2="279.52" y2="892.40" stroke="#1a1a1a" stroke-width="1.20"/>
<line x1="284.73" y1="1266.60" x2="284.73" y2="1262.60" stroke="#1a1a1a" stroke-width="1.20"/>
<line x1="284.73" y1="888.40" x2="284.73" y2="892.40" stroke="#1a1a1a" stroke-width="1.20"/>
<line x1="289.40" y1="1266.60" x2="289.40" y2="1258.60" stroke="#1a1a1a" stroke-width="1.20"/>
<line x1="289.40" y1="888.40" x2="289.40" y2="896.40" stroke="#1a1a1a" stroke-width="1.20"/>
<line x1="320.11" y1="1266.60" x2="320.11" y2="1262.60" stroke="#1a1a1a" stroke-width="1.20"/>
<line x1="320.11" y1="888.40" x2="320.11" y2="892.40" stroke="#1a1a1a" stroke-width="1.20"/>
<line x1="338.07" y1="1266.60" x2="338.07" y2="1262.60" stroke="#1a1a1a" stroke-width="1.20"/>
<line x1="338.07" y1="888.40" x2="338.07" y2="892.40" stroke="#1a1a1a" stroke-width="1.20"/>
<line x1="350.81" y1="1266.60" x2="350.81" y2="1262.60" stroke="#1a1a1a" stroke-width="1.20"/>
<line x1="350.81" y1="888.40" x2="350.81" y2="892.40" stroke="#1a1a1a" stroke-width="1.20"/>
<line x1="360.69" y1="1266.60" x2="360.69" y2="1262.60" stroke="#1a1a1a" stroke-width="1.20"/>
<line x1="360.69" y1="888.40" x2="360.69" y2="892.40" stroke="#1a1a1a" stroke-width="1.20"/>
<line x1="368.77" y1="1266.60" x2="368.77" y2="1262.60" stroke="#1a1a1a" stroke-width="1.20"/>
<line x1="368.77" y1="888.40" x2="368.77" y2="892.40" stroke="#1a1a1a" stroke-width="1.20"/>
<line x1="375.60" y1="1266.60" x2="375.60" y2="1262.60" stroke="#1a1a1a" stroke-width="1.20"/>
<line x1="375.60" y1="888.40" x2="375.60" y2="892.40" stroke="#1a1a1a" stroke-width="1.20"/>
<line x1="381.52" y1="1266.60" x2="381.52" y2="1262.60" stroke="#1a1a1a" stroke-width="1.20"/>
<line x1="381.52" y1="888.40" x2="381.52" y2="892.40" stroke="#1a1a1a" stroke-width="1.20"/>
<line x1="386.73" y1="1266.60" x2="386.73" y2="1262.60" stroke="#1a1a1a" stroke-width="1.20"/>
<line x1="386.73" y1="888.40" x2="386.73" y2="892.40" stroke="#1a1a1a" stroke-width="1.20"/>
<line x1="391.40" y1="1266.60" x2="391.40" y2="1258.60" stroke="#1a1a1a" stroke-width="1.20"/>
<line x1="391.40" y1="888.40" x2="391.40" y2="896.40" stroke="#1a1a1a" stroke-width="1.20"/>
<line x1="422.11" y1="1266.60" x2="422.11" y2="1262.60" stroke="#1a1a1a" stroke-width="1.20"/>
<line x1="422.11" y1="888.40" x2="422.11" y2="892.40" stroke="#1a1a1a" stroke-width="1.20"/>
<line x1="440.07" y1="1266.60" x2="440.07" y2="1262.60" stroke="#1a1a1a" stroke-width="1.20"/>
<line x1="440.07" y1="888.40" x2="440.07" y2="892.40" stroke="#1a1a1a" stroke-width="1.20"/>
<line x1="452.81" y1="1266.60" x2="452.81" y2="1262.60" stroke="#1a1a1a" stroke-width="1.20"/>
<line x1="452.81" y1="888.40" x2="452.81" y2="892.40" stroke="#1a1a1a" stroke-width="1.20"/>
<line x1="462.69" y1="1266.60" x2="462.69" y2="1262.60" stroke="#1a1a1a" stroke-width="1.20"/>
<line x1="462.69" y1="888.40" x2="462.69" y2="892.40" stroke="#1a1a1a" stroke-width="1.20"/>
<line x1="470.77" y1="1266.60" x2="470.77" y2="1262.60" stroke="#1a1a1a" stroke-width="1.20"/>
<line x1="470.77" y1="888.40" x2="470.77" y2="892.40" stroke="#1a1a1a" stroke-width="1.20"/>
<line x1="477.60" y1="1266.60" x2="477.60" y2="1262.60" stroke="#1a1a1a" stroke-width="1.20"/>
<line x1="477.60" y1="888.40" x2="477.60" y2="892.40" stroke="#1a1a1a" stroke-width="1.20"/>
<line x1="483.52" y1="1266.60" x2="483.52" y2="1262.60" stroke="#1a1a1a" stroke-width="1.20"/>
<line x1="483.52" y1="888.40" x2="483.52" y2="892.40" stroke="#1a1a1a" stroke-width="1.20"/>
<line x1="488.73" y1="1266.60" x2="488.73" y2="1262.60" stroke="#1a1a1a" stroke-width="1.20"/>
<line x1="488.73" y1="888.40" x2="488.73" y2="892.40" stroke="#1a1a1a" stroke-width="1.20"/>
<line x1="493.40" y1="1266.60" x2="493.40" y2="1258.60" stroke="#1a1a1a" stroke-width="1.20"/>
<line x1="493.40" y1="888.40" x2="493.40" y2="896.40" stroke="#1a1a1a" stroke-width="1.20"/>
<line x1="524.11" y1="1266.60" x2="524.11" y2="1262.60" stroke="#1a1a1a" stroke-width="1.20"/>
<line x1="524.11" y1="888.40" x2="524.11" y2="892.40" stroke="#1a1a1a" stroke-width="1.20"/>
<line x1="542.07" y1="1266.60" x2="542.07" y2="1262.60" stroke="#1a1a1a" stroke-width="1.20"/>
<line x1="542.07" y1="888.40" x2="542.07" y2="892.40" stroke="#1a1a1a" stroke-width="1.20"/>
<line x1="554.81" y1="1266.60" x2="554.81" y2="1262.60" stroke="#1a1a1a" stroke-width="1.20"/>
<line x1="554.81" y1="888.40" x2="554.81" y2="892.40" stroke="#1a1a1a" stroke-width="1.20"/>
<line x1="564.69" y1="1266.60" x2="564.69" y2="1262.60" stroke="#1a1a1a" stroke-width="1.20"/>
<line x1="564.69" y1="888.40" x2="564.69" y2="892.40" stroke="#1a1a1a" stroke-width="1.20"/>
<line x1="572.77" y1="1266.60" x2="572.77" y2="1262.60" stroke="#1a1a1a" stroke-width="1.20"/>
<line x1="572.77" y1="888.40" x2="572.77" y2="892.40" stroke="#1a1a1a" stroke-width="1.20"/>
<line x1="579.60" y1="1266.60" x2="579.60" y2="1262.60" stroke="#1a1a1a" stroke-width="1.20"/>
<line x1="579.60" y1="888.40" x2="579.60" y2="892.40" stroke="#1a1a1a" stroke-width="1.20"/>
<line x1="585.52" y1="1266.60" x2="585.52" y2="1262.60" stroke="#1a1a1a" stroke-width="1.20"/>
<line x1="585.52" y1="888.40" x2="585.52" y2="892.40" stroke="#1a1a1a" stroke-width="1.20"/>
<line x1="590.73" y1="1266.60" x2="590.73" y2="1262.60" stroke="#1a1a1a" stroke-width="1.20"/>
<line x1="590.73" y1="888.40" x2="590.73" y2="892.40" stroke="#1a1a1a" stroke-width="1.20"/>
<line x1="595.40" y1="1266.60" x2="595.40" y2="1258.60" stroke="#1a1a1a" stroke-width="1.20"/>
<line x1="595.40" y1="888.40" x2="595.40" y2="896.40" stroke="#1a1a1a" stroke-width="1.20"/>
<line x1="85.40" y1="1266.60" x2="93.40" y2="1266.60" stroke="#1a1a1a" stroke-width="1.20"/>
<line x1="595.40" y1="1266.60" x2="587.40" y2="1266.60" stroke="#1a1a1a" stroke-width="1.20"/>
<line x1="85.40" y1="1256.25" x2="89.40" y2="1256.25" stroke="#1a1a1a" stroke-width="1.20"/>
<line x1="595.40" y1="1256.25" x2="591.40" y2="1256.25" stroke="#1a1a1a" stroke-width="1.20"/>
<line x1="85.40" y1="1250.20" x2="89.40" y2="1250.20" stroke="#1a1a1a" stroke-width="1.20"/>
<line x1="595.40" y1="1250.20" x2="591.40" y2="1250.20" stroke="#1a1a1a" stroke-width="1.20"/>
<line x1="85.40" y1="1245.90" x2="89.40" y2="1245.90" stroke="#1a1a1a" stroke-width="1.20"/>
<line x1="595.40" y1="1245.90" x2="591.40" y2="1245.90" stroke="#1a1a1a" stroke-width="1.20"/>
<line x1="85.40" y1="1242.57" x2="89.40" y2="1242.57" stroke="#1a1a1a" stroke-width="1.20"/>
<line x1="595.40" y1="1242.57" x2="591.40" y2="1242.57" stroke="#1a1a1a" stroke-width="1.20"/>
<line x1="85.40" y1="1239.85" x2="89.40" y2="1239.85" stroke="#1a1a1a" stroke-width="1.20"/>
<line x1="595.40" y1="1239.85" x2="591.40" y2="1239.85" stroke="#1a1a1a" stroke-width="1.20"/>
<line x1="85.40" y1="1237.54" x2="89.40" y2="1237.54" stroke="#1a1a1a" stroke-width="1.20"/>
<line x1="595.40" y1="1237.54" x2="591.40" y2="1237.54" stroke="#1a1a1a" stroke-width="1.20"/>
<line x1="85.40" y1="1235.55" x2="89.40" y2="1235.55" stroke="#1a1a1a" stroke-width="1.20"/>
<line x1="595.40" y1="1235.55" x2="591.40" y2="1235.55" stroke="#1a1a1a" stroke-width="1.20"/>
<line x1="85.40" y1="1233.79" x2="89.40" y2="1233.79" stroke="#1a1a1a" stroke-width="1.20"/>
<line x1="595.40" y1="1233.79" x2="591.40" y2="1233.79" stroke="#1a1a1a" stroke-width="1.20"/>
<line x1="85.40" y1="1232.22" x2="93.40" y2="1232.22" stroke="#1a1a1a" stroke-width="1.20"/>
<line x1="595.40" y1="1232.22" x2="587.40" y2="1232.22" stroke="#1a1a1a" stroke-width="1.20"/>
<line x1="85.40" y1="1221.87" x2="89.40" y2="1221.87" stroke="#1a1a1a" stroke-width="1.20"/>
<line x1="595.40" y1="1221.87" x2="591.40" y2="1221.87" stroke="#1a1a1a" stroke-width="1.20"/>
<line x1="85.40" y1="1215.81" x2="89.40" y2="1215.81" stroke="#1a1a1a" stroke-width="1.20"/>
<line x1="595.40" y1="1215.81" x2="591.40" y2="1215.81" stroke="#1a1a1a" stroke-width="1.20"/>
<line x1="85.40" y1="1211.52" x2="89.40" y2="1211.52" stroke="#1a1a1a" stroke-width="1.20"/>
<line x1="595.40" y1="1211.52" x2="591.40" y2="1211.52" stroke="#1a1a1a" stroke-width="1.20"/>
<line x1="85.40" y1="1208.19" x2="89.40" y2="1208.19" stroke="#1a1a1a" stroke-width="1.20"/>
<line x1="595.40" y1="1208.19" x2="591.40" y2="1208.19" stroke="#1a1a1a" stroke-width="1.20"/>
<line x1="85.40" y1="1205.46" x2="89.40" y2="1205.46" stroke="#1a1a1a" stroke-width="1.20"/>
<line x1="595.40" y1="1205.46" x2="591.40" y2="1205.46" stroke="#1a1a1a" stroke-width="1.20"/>
<line x1="85.40" y1="1203.16" x2="89.40" y2="1203.16" stroke="#1a1a1a" stroke-width="1.20"/>
<line x1="595.40" y1="1203.16" x2="591.40" y2="1203.16" stroke="#1a1a1a" stroke-width="1.20"/>
<line x1="85.40" y1="1201.17" x2="89.40" y2="1201.17" stroke="#1a1a1a" stroke-width="1.20"/>
<line x1="595.40" y1="1201.17" x2="591.40" y2="1201.17" stroke="#1a1a1a" stroke-width="1.20"/>
<line x1="85.40" y1="1199.41" x2="89.40" y2="1199.41" stroke="#1a1a1a" stroke-width="1.20"/>
<line x1="595.40" y1="1199.41" x2="591.40" y2="1199.41" stroke="#1a1a1a" stroke-width="1.20"/>
<line x1="85.40" y1="1197.84" x2="93.40" y2="1197.84" stroke="#1a1a1a" stroke-width="1.20"/>
<line x1="595.40" y1="1197.84" x2="587.40" y2="1197.84" stroke="#1a1a1a" stroke-width="1.20"/>
<line x1="85.40" y1="1187.49" x2="89.40" y2="1187.49" stroke="#1a1a1a" stroke-width="1.20"/>
<line x1="595.40" y1="1187.49" x2="591.40" y2="1187.49" stroke="#1a1a1a" stroke-width="1.20"/>
<line x1="85.40" y1="1181.43" x2="89.40" y2="1181.43" stroke="#1a1a1a" stroke-width="1.20"/>
<line x1="595.40" y1="1181.43" x2="591.40" y2="1181.43" stroke="#1a1a1a" stroke-width="1.20"/>
<line x1="85.40" y1="1177.14" x2="89.40" y2="1177.14" stroke="#1a1a1a" stroke-width="1.20"/>
<line x1="595.40" y1="1177.14" x2="591.40" y2="1177.14" stroke="#1a1a1a" stroke-width="1.20"/>
<line x1="85.40" y1="1173.80" x2="89.40" y2="1173.80" stroke="#1a1a1a" stroke-width="1.20"/>
<line x1="595.40" y1="1173.80" x2="591.40" y2="1173.80" stroke="#1a1a1a" stroke-width="1.20"/>
<line x1="85.40" y1="1171.08" x2="89.40" y2="1171.08" stroke="#1a1a1a" stroke-width="1.20"/>
<line x1="595.40" y1="1171.08" x2="591.40" y2="1171.08" stroke="#1a1a1a" stroke-width="1.20"/>
<line x1="85.40" y1="1168.78" x2="89.40" y2="1168.78" stroke="#1a1a1a" stroke-width="1.20"/>
<line x1="595.40" y1="1168.78" x2="591.40" y2="1168.78" stroke="#1a1a1a" stroke-width="1.20"/>
<line x1="85.40" y1="1166.79" x2="89.40" y2="1166.79" stroke="#1a1a1a" stroke-width="1.20"/>
<line x1="595.40" y1="1166.79" x2="591.40" y2="1166.79" stroke="#1a1a1a" stroke-width="1.20"/>
<line x1="85.40" y1="1165.03" x2="89.40" y2="1165.03" stroke="#1a1a1a" stroke-width="1.20"/>
<line x1="595.40" y1="1165.03" x2="591.40" y2="1165.03" stroke="#1a1a1a" stroke-width="1.20"/>
<line x1="85.40" y1="1163.45" x2="93.40" y2="1163.45" stroke="#1a1a1a" stroke-width="1.20"/>
<line x1="595.40" y1="1163.45" x2="587.40" y2="1163.45" stroke="#1a1a1a" stroke-width="1.20"/>
<line x1="85.40" y1="1153.10" x2="89.40" y2="1153.10" stroke="#1a1a1a" stroke-width="1.20"/>
<line x1="595.40" y1="1153.10" x2="591.40" y2="1153.10" stroke="#1a1a1a" stroke-width="1.20"/>
<line x1="85.40" y1="1147.05" x2="89.40" y2="1147.05" stroke="#1a1a1a" stroke-width="1.20"/>
<line x1="595.40" y1="1147.05" x2="591.40" y2="1147.05" stroke="#1a1a1a" stroke-width="1.20"/>
<line x1="85.40" y1="1142.75" x2="89.40" y2="1142.75" stroke="#1a1a1a" stroke-width="1.20"/>
<line x1="595.40" y1="1142.75" x2="591.40" y2="1142.75" stroke="#1a1a1a" stroke-width="1.20"/>
<line x1="85.40" y1="1139.42" x2="89.40" y2="1139.42" stroke="#1a1a1a" stroke-width="1.20"/>
<line x1="595.40" y1="1139.42" x2="591.40" y2="1139.42" stroke="#1a1a1a" stroke-width="1.20"/>
<line x1="85.40" y1="1136.70" x2="89.40" y2="1136.70" stroke="#1a1a1a" stroke-width="1.20"/>
<line x1="595.40" y1="1136.70" x2="591.40" y2="1136.70" stroke="#1a1a1a" stroke-width="1.20"/>
<line x1="85.40" y1="1134.40" x2="89.40" y2="1134.40" stroke="#1a1a1a" stroke-width="1.20"/>
<line x1="595.40" y1="1134.40" x2="591.40" y2="1134.40" stroke="#1a1a1a" stroke-width="1.20"/>
<line x1="85.40" y1="1132.40" x2="89.40" y2="1132.40" stroke="#1a1a1a" stroke-width="1.20"/>
<line x1="595.40" y1="1132.40" x2="591.40" y2="1132.40" stroke="#1a1a1a" stroke-width="1.20"/>
<line x1="85.40" y1="1130.65" x2="89.40" y2="1130.65" stroke="#1a1a1a" stroke-width="1.20"/>
<line x1="595.40" y1="1130.65" x2="591.40" y2="1130.65" stroke="#1a1a1a" stroke-width="1.20"/>
<line x1="85.40" y1="1129.07" x2="93.40" y2="1129.07" stroke="#1a1a1a" stroke-width="1.20"/>
<line x1="595.40" y1="1129.07" x2="587.40" y2="1129.07" stroke="#1a1a1a" stroke-width="1.20"/>
<line x1="85.40" y1="1118.72" x2="89.40" y2="1118.72" stroke="#1a1a1a" stroke-width="1.20"/>
<line x1="595.40" y1="1118.72" x2="591.40" y2="1118.72" stroke="#1a1a1a" stroke-width="1.20"/>
<line x1="85.40" y1="1112.67" x2="89.40" y2="1112.67" stroke="#1a1a1a" stroke-width="1.20"/>
<line x1="595.40" y1="1112.67" x2="591.40" y2="1112.67" stroke="#1a1a1a" stroke-width="1.20"/>
<line x1="85.40" y1="1108.37" x2="89.40" y2="1108.37" stroke="#1a1a1a" stroke-width="1.20"/>
<line x1="595.40" y1="1108.37" x2="591.40" y2="1108.37" stroke="#1a1a1a" stroke-width="1.20"/>
<line x1="85.40" y1="1105.04" x2="89.40" y2="1105.04" stroke="#1a1a1a" stroke-width="1.20"/>
<line x1="595.40" y1="1105.04" x2="591.40" y2="1105.04" stroke="#1a1a1a" stroke-width="1.20"/>
<line x1="85.40" y1="1102.32" x2="89.40" y2="1102.32" stroke="#1a1a1a" stroke-width="1.20"/>
<line x1="595.40" y1="1102.32" x2="591.40" y2="1102.32" stroke="#1a1a1a" stroke-width="1.20"/>
<line x1="85.40" y1="1100.02" x2="89.40" y2="1100.02" stroke="#1a1a1a" stroke-width="1.20"/>
<line x1="595.40" y1="1100.02" x2="591.40" y2="1100.02" stroke="#1a1a1a" stroke-width="1.20"/>
<line x1="85.40" y1="1098.02" x2="89.40" y2="1098.02" stroke="#1a1a1a" stroke-width="1.20"/>
<line x1="595.40" y1="1098.02" x2="591.40" y2="1098.02" stroke="#1a1a1a" stroke-width="1.20"/>
<line x1="85.40" y1="1096.26" x2="89.40" y2="1096.26" stroke="#1a1a1a" stroke-width="1.20"/>
<line x1="595.40" y1="1096.26" x2="591.40" y2="1096.26" stroke="#1a1a1a" stroke-width="1.20"/>
<line x1="85.40" y1="1094.69" x2="93.40" y2="1094.69" stroke="#1a1a1a" stroke-width="1.20"/>
<line x1="595.40" y1="1094.69" x2="587.40" y2="1094.69" stroke="#1a1a1a" stroke-width="1.20"/>
<line x1="85.40" y1="1084.34" x2="89.40" y2="1084.34" stroke="#1a1a1a" stroke-width="1.20"/>
<line x1="595.40" y1="1084.34" x2="591.40" y2="1084.34" stroke="#1a1a1a" stroke-width="1.20"/>
<line x1="85.40" y1="1078.29" x2="89.40" y2="1078.29" stroke="#1a1a1a" stroke-width="1.20"/>
<line x1="595.40" y1="1078.29" x2="591.40" y2="1078.29" stroke="#1a1a1a" stroke-width="1.20"/>
<line x1="85.40" y1="1073.99" x2="89.40" y2="1073.99" stroke="#1a1a1a" stroke-width="1.20"/>
<line x1="595.40" y1="1073.99" x2="591.40" y2="1073.99" stroke="#1a1a1a" stroke-width="1.20"/>
<line x1="85.40" y1="1070.66" x2="89.40" y2="1070.66" stroke="#1a1a1a" stroke-width="1.20"/>
<line x1="595.40" y1="1070.66" x2="591.40" y2="1070.66" stroke="#1a1a1a" stroke-width="1.20"/>
<line x1="85.40" y1="1067.94" x2="89.40" y2="1067.94" stroke="#1a1a1a" stroke-width="1.20"/>
<line x1="595.40" y1="1067.94" x2="591.40" y2="1067.94" stroke="#1a1a1a" stroke-width="1.20"/>
<line x1="85.40" y1="1065.63" x2="89.40" y2="1065.63" stroke="#1a1a1a" stroke-width="1.20"/>
<line x1="595.40" y1="1065.63" x2="591.40" y2="1065.63" stroke="#1a1a1a" stroke-width="1.20"/>
<line x1="85.40" y1="1063.64" x2="89.40" y2="1063.64" stroke="#1a1a1a" stroke-width="1.20"/>
<line x1="595.40" y1="1063.64" x2="591.40" y2="1063.64" stroke="#1a1a1a" stroke-width="1.20"/>
<line x1="85.40" y1="1061.88" x2="89.40" y2="1061.88" stroke="#1a1a1a" stroke-width="1.20"/>
<line x1="595.40" y1="1061.88" x2="591.40" y2="1061.88" stroke="#1a1a1a" stroke-width="1.20"/>
<line x1="85.40" y1="1060.31" x2="93.40" y2="1060.31" stroke="#1a1a1a" stroke-width="1.20"/>
<line x1="595.40" y1="1060.31" x2="587.40" y2="1060.31" stroke="#1a1a1a" stroke-width="1.20"/>
<line x1="85.40" y1="1049.96" x2="89.40" y2="1049.96" stroke="#1a1a1a" stroke-width="1.20"/>
<line x1="595.40" y1="1049.96" x2="591.40" y2="1049.96" stroke="#1a1a1a" stroke-width="1.20"/>
<line x1="85.40" y1="1043.90" x2="89.40" y2="1043.90" stroke="#1a1a1a" stroke-width="1.20"/>
<line x1="595.40" y1="1043.90" x2="591.40" y2="1043.90" stroke="#1a1a1a" stroke-width="1.20"/>
<line x1="85.40" y1="1039.61" x2="89.40" y2="1039.61" stroke="#1a1a1a" stroke-width="1.20"/>
<line x1="595.40" y1="1039.61" x2="591.40" y2="1039.61" stroke="#1a1a1a" stroke-width="1.20"/>
<line x1="85.40" y1="1036.28" x2="89.40" y2="1036.28" stroke="#1a1a1a" stroke-width="1.20"/>
<line x1="595.40" y1="1036.28" x2="591.40" y2="1036.28" stroke="#1a1a1a" stroke-width="1.20"/>
<line x1="85.40" y1="1033.55" x2="89.40" y2="1033.55" stroke="#1a1a1a" stroke-width="1.20"/>
<line x1="595.40" y1="1033.55" x2="591.40" y2="1033.55" stroke="#1a1a1a" stroke-width="1.20"/>
<line x1="85.40" y1="1031.25" x2="89.40" y2="1031.25" stroke="#1a1a1a" stroke-width="1.20"/>
<line x1="595.40" y1="1031.25" x2="591.40" y2="1031.25" stroke="#1a1a1a" stroke-width="1.20"/>
<line x1="85.40" y1="1029.26" x2="89.40" y2="1029.26" stroke="#1a1a1a" stroke-width="1.20"/>
<line x1="595.40" y1="1029.26" x2="591.40" y2="1029.26" stroke="#1a1a1a" stroke-width="1.20"/>
<line x1="85.40" y1="1027.50" x2="89.40" y2="1027.50" stroke="#1a1a1a" stroke-width="1.20"/>
<line x1="595.40" y1="1027.50" x2="591.40" y2="1027.50" stroke="#1a1a1a" stroke-width="1.20"/>
<line x1="85.40" y1="1025.93" x2="93.40" y2="1025.93" stroke="#1a1a1a" stroke-width="1.20"/>
<line x1="595.40" y1="1025.93" x2="587.40" y2="1025.93" stroke="#1a1a1a" stroke-width="1.20"/>
<line x1="85.40" y1="1015.58" x2="89.40" y2="1015.58" stroke="#1a1a1a" stroke-width="1.20"/>
<line x1="595.40" y1="1015.58" x2="591.40" y2="1015.58" stroke="#1a1a1a" stroke-width="1.20"/>
<line x1="85.40" y1="1009.52" x2="89.40" y2="1009.52" stroke="#1a1a1a" stroke-width="1.20"/>
<line x1="595.40" y1="1009.52" x2="591.40" y2="1009.52" stroke="#1a1a1a" stroke-width="1.20"/>
<line x1="85.40" y1="1005.23" x2="89.40" y2="1005.23" stroke="#1a1a1a" stroke-width="1.20"/>
<line x1="595.40" y1="1005.23" x2="591.40" y2="1005.23" stroke="#1a1a1a" stroke-width="1.20"/>
<line x1="85.40" y1="1001.90" x2="89.40" y2="1001.90" stroke="#1a1a1a" stroke-width="1.20"/>
<line x1="595.40" y1="1001.90" x2="591.40" y2="1001.90" stroke="#1a1a1a" stroke-width="1.20"/>
<line x1="85.40" y1="999.17" x2="89.40" y2="999.17" stroke="#1a1a1a" stroke-width="1.20"/>
<line x1="595.40" y1="999.17" x2="591.40" y2="999.17" stroke="#1a1a1a" stroke-width="1.20"/>
<line x1="85.40" y1="996.87" x2="89.40" y2="996.87" stroke="#1a1a1a" stroke-width="1.20"/>
<line x1="595.40" y1="996.87" x2="591.40" y2="996.87" stroke="#1a1a1a" stroke-width="1.20"/>
<line x1="85.40" y1="994.88" x2="89.40" y2="994.88" stroke="#1a1a1a" stroke-width="1.20"/>
<line x1="595.40" y1="994.88" x2="591.40" y2="994.88" stroke="#1a1a1a" stroke-width="1.20"/>
<line x1="85.40" y1="993.12" x2="89.40" y2="993.12" stroke="#1a1a1a" stroke-width="1.20"/>
<line x1="595.40" y1="993.12" x2="591.40" y2="993.12" stroke="#1a1a1a" stroke-width="1.20"/>
<line x1="85.40" y1="991.55" x2="93.40" y2="991.55" stroke="#1a1a1a" stroke-width="1.20"/>
<line x1="595.40" y1="991.55" x2="587.40" y2="991.55" stroke="#1a1a1a" stroke-width="1.20"/>
<line x1="85.40" y1="981.20" x2="89.40" y2="981.20" stroke="#1a1a1a" stroke-width="1.20"/>
<line x1="595.40" y1="981.20" x2="591.40" y2="981.20" stroke="#1a1a1a" stroke-width="1.20"/>
<line x1="85.40" y1="975.14" x2="89.40" y2="975.14" stroke="#1a1a1a" stroke-width="1.20"/>
<line x1="595.40" y1="975.14" x2="591.40" y2="975.14" stroke="#1a1a1a" stroke-width="1.20"/>
<line x1="85.40" y1="970.85" x2="89.40" y2="970.85" stroke="#1a1a1a" stroke-width="1.20"/>
<line x1="595.40" y1="970.85" x2="591.40" y2="970.85" stroke="#1a1a1a" stroke-width="1.20"/>
<line x1="85.40" y1="967.51" x2="89.40" y2="967.51" stroke="#1a1a1a" stroke-width="1.20"/>
<line x1="595.40" y1="967.51" x2="591.40" y2="967.51" stroke="#1a1a1a" stroke-width="1.20"/>
<line x1="85.40" y1="964.79" x2="89.40" y2="964.79" stroke="#1a1a1a" stroke-width="1.20"/>
<line x1="595.40" y1="964.79" x2="591.40" y2="964.79" stroke="#1a1a1a" stroke-width="1.20"/>
<line x1="85.40" y1="962.49" x2="89.40" y2="962.49" stroke="#1a1a1a" stroke-width="1.20"/>
<line x1="595.40" y1="962.49" x2="591.40" y2="962.49" stroke="#1a1a1a" stroke-width="1.20"/>
<line x1="85.40" y1="960.50" x2="89.40" y2="960.50" stroke="#1a1a1a" stroke-width="1.20"/>
<line x1="595.40" y1="960.50" x2="591.40" y2="960.50" stroke="#1a1a1a" stroke-width="1.20"/>
<line x1="85.40" y1="958.74" x2="89.40" y2="958.74" stroke="#1a1a1a" stroke-width="1.20"/>
<line x1="595.40" y1="958.74" x2="591.40" y2="958.74" stroke="#1a1a1a" stroke-width="1.20"/>
<line x1="85.40" y1="957.16" x2="93.40" y2="957.16" stroke="#1a1a1a" stroke-width="1.20"/>
<line x1="595.40" y1="957.16" x2="587.40" y2="957.16" stroke="#1a1a1a" stroke-width="1.20"/>
<line x1="85.40" y1="946.81" x2="89.40" y2="946.81" stroke="#1a1a1a" stroke-width="1.20"/>
<line x1="595.40" y1="946.81" x2="591.40" y2="946.81" stroke="#1a1a1a" stroke-width="1.20"/>
<line x1="85.40" y1="940.76" x2="89.40" y2="940.76" stroke="#1a1a1a" stroke-width="1.20"/>
<line x1="595.40" y1="940.76" x2="591.40" y2="940.76" stroke="#1a1a1a" stroke-width="1.20"/>
<line x1="85.40" y1="936.46" x2="89.40" y2="936.46" stroke="#1a1a1a" stroke-width="1.20"/>
<line x1="595.40" y1="936.46" x2="591.40" y2="936.46" stroke="#1a1a1a" stroke-width="1.20"/>
<line x1="85.40" y1="933.13" x2="89.40" y2="933.13" stroke="#1a1a1a" stroke-width="1.20"/>
<line x1="595.40" y1="933.13" x2="591.40" y2="933.13" stroke="#1a1a1a" stroke-width="1.20"/>
<line x1="85.40" y1="930.41" x2="89.40" y2="930.41" stroke="#1a1a1a" stroke-width="1.20"/>
<line x1="595.40" y1="930.41" x2="591.40" y2="930.41" stroke="#1a1a1a" stroke-width="1.20"/>
<line x1="85.40" y1="928.11" x2="89.40" y2="928.11" stroke="#1a1a1a" stroke-width="1.20"/>
<line x1="595.40" y1="928.11" x2="591.40" y2="928.11" stroke="#1a1a1a" stroke-width="1.20"/>
<line x1="85.40" y1="926.11" x2="89.40" y2="926.11" stroke="#1a1a1a" stroke-width="1.20"/>
<line x1="595.40" y1="926.11" x2="591.40" y2="926.11" stroke="#1a1a1a" stroke-width="1.20"/>
<line x1="85.40" y1="924.36" x2="89.40" y2="924.36" stroke="#1a1a1a" stroke-width="1.20"/>
<line x1="595.40" y1="924.36" x2="591.40" y2="924.36" stroke="#1a1a1a" stroke-width="1.20"/>
<line x1="85.40" y1="922.78" x2="93.40" y2="922.78" stroke="#1a1a1a" stroke-width="1.20"/>
<line x1="595.40" y1="922.78" x2="587.40" y2="922.78" stroke="#1a1a1a" stroke-width="1.20"/>
<line x1="85.40" y1="912.43" x2="89.40" y2="912.43" stroke="#1a1a1a" stroke-width="1.20"/>
<line x1="595.40" y1="912.43" x2="591.40" y2="912.43" stroke="#1a1a1a" stroke-width="1.20"/>
<line x1="85.40" y1="906.38" x2="89.40" y2="906.38" stroke="#1a1a1a" stroke-width="1.20"/>
<line x1="595.40" y1="906.38" x2="591.40" y2="906.38" stroke="#1a1a1a" stroke-width="1.20"/>
<line x1="85.40" y1="902.08" x2="89.40" y2="902.08" stroke="#1a1a1a" stroke-width="1.20"/>
<line x1="595.40" y1="902.08" x2="591.40" y2="902.08" stroke="#1a1a1a" stroke-width="1.20"/>
<line x1="85.40" y1="898.75" x2="89.40" y2="898.75" stroke="#1a1a1a" stroke-width="1.20"/>
<line x1="595.40" y1="898.75" x2="591.40" y2="898.75" stroke="#1a1a1a" stroke-width="1.20"/>
<line x1="85.40" y1="896.03" x2="89.40" y2="896.03" stroke="#1a1a1a" stroke-width="1.20"/>
<line x1="595.40" y1="896.03" x2="591.40" y2="896.03" stroke="#1a1a1a" stroke-width="1.20"/>
<line x1="85.40" y1="893.73" x2="89.40" y2="893.73" stroke="#1a1a1a" stroke-width="1.20"/>
<line x1="595.40" y1="893.73" x2="591.40" y2="893.73" stroke="#1a1a1a" stroke-width="1.20"/>
<line x1="85.40" y1="891.73" x2="89.40" y2="891.73" stroke="#1a1a1a" stroke-width="1.20"/>
<line x1="595.40" y1="891.73" x2="591.40" y2="891.73" stroke="#1a1a1a" stroke-width="1.20"/>
<line x1="85.40" y1="889.97" x2="89.40" y2="889.97" stroke="#1a1a1a" stroke-width="1.20"/>
<line x1="595.40" y1="889.97" x2="591.40" y2="889.97" stroke="#1a1a1a" stroke-width="1.20"/>
<line x1="85.40" y1="888.40" x2="93.40" y2="888.40" stroke="#1a1a1a" stroke-width="1.20"/>
<line x1="595.40" y1="888.40" x2="587.40" y2="888.40" stroke="#1a1a1a" stroke-width="1.20"/>
<rect x="85.40" y="888.40" width="510.00" height="378.20" fill="none" stroke="#1a1a1a" stroke-width="1.40"/>
<g clip-path="url(#c3)">
<path d="M85.4 1018.9L210.2 1060.7L317.4 1096.9L373.1 1115.9L411.3 1129.2L428.8 1135.6L443.2 1141L456.7 1146.3L468 1151L478.3 1155.5L487.6 1159.9L495.8 1164.1L504.1 1168.7L512.3 1173.8L516.5 1176.6L520.6 1179.7L526.8 1184.7L529.9 1187.5L533 1190.6L538.1 1196.3L541.2 1200.2L543.3 1203.1L545.3 1206.3L547.4 1209.8L550.5 1215.8L553.6 1223L555.7 1229L556.7 1232.4L558.7 1240.5L560.5 1249.2L562 1259.4L563.2 1271.1L564 1283.7L564.7 1299.2" fill="none" stroke="#2fe08a" stroke-width="1.30" stroke-linejoin="round"/><path d="M566.8 1299.6L567.3 1288.2L567.9 1278.3L568.6 1269.3L569.5 1261.2L570.7 1253.3L572.2 1246.3L573.2 1242.1L575.2 1235.5L577.3 1230.3L579.4 1226.1L580.4 1224.3L582.5 1221.2L585.6 1217.5L588.7 1214.6L590.7 1213.1L592.8 1211.9L595.9 1210.6L597.9 1210L600 1209.6" fill="none" stroke="#2fe08a" stroke-width="1.30" stroke-linejoin="round"/>
<path d="M85.4 1007.7L314.3 1083.3L361.8 1099.3L397.9 1112L415.4 1118.4L431.9 1124.7L446.3 1130.4L458.7 1135.7L470.1 1140.8L481.4 1146.3L490.7 1151.2L500 1156.5L505.1 1159.6L510.3 1163L515.4 1166.5L519.6 1169.6L523.7 1172.8L527.8 1176.3L531.9 1180L535 1182.9L541.2 1189.5L544.3 1193.1L547.4 1197.1L550.5 1201.3L552.6 1204.4L555.7 1209.5L557.7 1213.3L559.8 1217.4L561.8 1221.9L564.9 1229.8L567 1236L568 1239.6L570.1 1247.9L572.2 1258.8L573.8 1270.8L575.1 1284.5L576 1299.8" fill="none" stroke="#9a9a9a" stroke-width="1.30" stroke-linejoin="round"/><path d="M579 1299.7L580 1285L580.6 1278.6L581.4 1272.5L582.3 1266.9L583.2 1262L584.5 1256.6L585.6 1253.2L586.6 1250.2L588.7 1245.4L589.7 1243.4L591.7 1240.1L593.8 1237.4L595.9 1235.3L597.9 1233.6L600 1232.3" fill="none" stroke="#9a9a9a" stroke-width="1.30" stroke-linejoin="round"/>
<path d="M85.4 989.1L142.1 1008.1L237 1039.1L271 1050.3L306.1 1062.3L336 1073L353.5 1079.6L369 1085.6L384.5 1092L398.9 1098.3L412.3 1104.4L424.7 1110.4L437.1 1116.7L448.4 1122.9L460.8 1130.2L473.2 1137.9L484.5 1145.6L494.8 1153.1L505.1 1161.2L515.4 1170L525.7 1179.4L535 1188.6L544.3 1198.6L552.6 1208.1L560.8 1218.3L569.1 1229.4L577.3 1241.3L584.5 1252.4L592.8 1266.2L600 1279.1" fill="none" stroke="#8a2be2" stroke-width="1.30" stroke-linejoin="round"/>
<path d="M85.4 989.1L142.1 1008.1L237 1039.1L271 1050.3L306.1 1062.3L336 1073L353.5 1079.6L369 1085.6L384.5 1092L398.9 1098.3L412.3 1104.4L424.7 1110.4L437.1 1116.7L448.4 1122.9L460.8 1130.2L473.2 1137.9L484.5 1145.6L494.8 1153.1L505.1 1161.2L515.4 1170L525.7 1179.4L535 1188.6L544.3 1198.6L552.6 1208.1L560.8 1218.3L569.1 1229.4L577.3 1241.3L584.5 1252.4L592.8 1266.2L600 1279.1" fill="none" stroke="#8a2be2" stroke-width="1.50" stroke-dasharray="0.01 5.4" stroke-linecap="round" stroke-linejoin="round"/>
<path d="M85.4 971.2L111.2 979.1L137 987.1L163.8 995.7L191.6 1004.9L221.5 1015L252.5 1025.6L285.5 1037.1L318.5 1048.7L348.4 1059.5L375.2 1069.3L397.9 1077.8L418.5 1085.7L436 1092.7L452.5 1099.6L467 1105.9L480.4 1112.1L491.7 1117.8L502 1123.2L511.3 1128.5L520.6 1134.2L528.8 1139.7L537.1 1145.6L544.3 1151.2L551.5 1157.3L558.7 1164L564.9 1170.2L571.1 1177L577.3 1184.4L583.5 1192.4L588.7 1199.7L594.8 1209.2L600 1217.9" fill="none" stroke="#e8822a" stroke-width="1.50" stroke-dasharray="0.01 5.4" stroke-linecap="round" stroke-linejoin="round"/>
<path d="M85.4 973.3L280.3 1038.3L321.6 1052.3L354.6 1063.8L388.6 1076.2L404.1 1082.1L417.5 1087.4L429.8 1092.4L442.2 1097.7L453.6 1102.8L464.9 1108.1L476.2 1113.7L487.6 1119.7L497.9 1125.5L508.2 1131.8L517.5 1137.8L526.8 1144.3L535 1150.5L543.3 1157.1L551.5 1164.3L558.7 1171.1L566 1178.4L573.2 1186.2L580.4 1194.7L586.6 1202.5L593.8 1212.4L600 1221.5" fill="none" stroke="#e8822a" stroke-width="1.30" stroke-linejoin="round"/>
<path d="M85.4 957.3L138 974.4L194.7 993.1L257.6 1014.3L321.6 1036.2L373.1 1054.1L413.3 1068.3L446.3 1080.4L473.2 1090.7L495.8 1099.9L515.4 1108.5L524.7 1112.8L533 1116.8L541.2 1121L548.4 1124.9L555.7 1129L562.9 1133.3L570.1 1137.8L576.3 1142L582.5 1146.3L588.7 1151L594.8 1155.9L600 1160.3" fill="none" stroke="#9a9a9a" stroke-width="1.50" stroke-dasharray="0.01 5.4" stroke-linecap="round" stroke-linejoin="round"/>
<path d="M85.4 950.5L146.2 970.6L210.2 992L276.2 1014.2L335 1034.2L378.3 1049L413.3 1061.3L442.2 1071.6L468 1081.1L490.7 1089.8L510.3 1097.7L528.8 1105.7L545.3 1113.3L560.8 1120.9L574.2 1128.1L587.6 1136L593.8 1139.8L600 1143.9" fill="none" stroke="#2fe08a" stroke-width="1.50" stroke-dasharray="0.01 5.4" stroke-linecap="round" stroke-linejoin="round"/>
<path d="M85.4 922.6L111.2 931.3L139 940.5L231.8 970.5L264.8 981.3L297.8 992.6L326.7 1003L344.2 1009.6L359.7 1015.8L374.2 1021.8L388.6 1028.1L402 1034.4L415.4 1040.9L427.8 1047.4L439.1 1053.7L451.5 1061L463.9 1068.8L476.2 1077.2L487.6 1085.5L498.9 1094.4L509.2 1103.1L519.6 1112.4L529.9 1122.4L540.2 1133.3L549.5 1143.7L558.7 1155L567 1165.6L575.2 1177L583.5 1189.2L591.7 1202.2L600 1216.1" fill="none" stroke="#dd2a8a" stroke-width="1.30" stroke-linejoin="round"/>
<path d="M85.4 918L116.3 929.3L148.3 940.6L182.3 952.3L218.4 964.3L252.5 975.3L289.6 987.1L406.1 1023.5L444.3 1035.6L479.3 1047L507.2 1056.4L522.7 1062L537.1 1067.4L550.5 1072.8L561.8 1077.7L572.2 1082.5L582.5 1087.8L591.7 1093L600 1098.2" fill="none" stroke="#d42a2a" stroke-width="1.50" stroke-dasharray="0.01 5.4" stroke-linecap="round" stroke-linejoin="round"/>
<path d="M85.4 918.8L178.2 950.4L341.2 1005.7L389.6 1022.3L418.5 1032.3L443.2 1041.1L464.9 1049L483.5 1056L504.1 1064.2L521.6 1071.7L538.1 1079.3L552.6 1086.6L559.8 1090.5L566 1094.1L572.2 1097.8L578.3 1101.8L584.5 1106L589.7 1109.8L594.8 1113.7L600 1117.9" fill="none" stroke="#d42a2a" stroke-width="1.30" stroke-linejoin="round"/>
<path d="M85.4 910.9L176.2 940.7L238 961.2L288.6 978.4L329.8 992.9L348.4 999.6L365.9 1006.2L382.4 1012.5L397.9 1018.6L412.3 1024.6L425.7 1030.3L439.1 1036.3L451.5 1042.1L463.9 1048.2L476.2 1054.7L487.6 1061L497.9 1067L508.2 1073.4L518.5 1080.3L527.8 1086.9L537.1 1093.9L546.4 1101.4L554.6 1108.5L562.9 1116.1L570.1 1123.2L578.3 1131.9L585.6 1140L592.8 1148.7L600 1157.9" fill="none" stroke="#2a78d8" stroke-width="1.30" stroke-linejoin="round"/>
<path d="M85.4 914.5L258.7 972.2L313.3 990.7L355.6 1005.1L390.7 1017.3L420.6 1028.1L446.3 1037.7L469 1046.7L480.4 1051.4L491.7 1056.3L502 1060.9L511.3 1065.3L520.6 1069.8L528.8 1074.1L537.1 1078.6L545.3 1083.3L553.6 1088.3L560.8 1093L568 1097.9L574.2 1102.4L581.4 1107.9L587.6 1113L593.8 1118.4L600 1124.1" fill="none" stroke="#33dde8" stroke-width="1.50" stroke-dasharray="0.01 5.4" stroke-linecap="round" stroke-linejoin="round"/>
<path d="M85.4 913.4L153.5 935.8L220.5 958.2L279.3 978.1L327.7 994.8L366.9 1008.6L401 1021L429.8 1031.9L455.6 1042.1L479.3 1052.1L490.7 1057.2L501 1061.9L511.3 1066.9L520.6 1071.5L529.9 1076.4L539.2 1081.5L548.4 1086.9L556.7 1091.9L564.9 1097.2L572.2 1102.1L579.4 1107.2L586.6 1112.6L593.8 1118.3L600 1123.5" fill="none" stroke="#33dde8" stroke-width="1.30" stroke-linejoin="round"/>
<path d="M90 886.3L339.4 969.8L398.7 990L446.7 1006.7L471.2 1015.4L493.7 1023.6L514.1 1031.2L533.6 1038.7L552 1045.9L568.3 1052.6L584.7 1059.5L600 1066.2" fill="none" stroke="#000000" stroke-width="1.50" stroke-dasharray="0.01 5.4" stroke-linecap="round" stroke-linejoin="round"/>
<path d="M85.4 898.4L129.7 912.8L178.2 928.9L230.8 946.5L290.6 966.8L370 994L428.8 1014.4L467 1027.8L494.8 1038.1L514.4 1045.6L530.9 1052.5L545.3 1058.9L558.7 1065.5L564.9 1068.8L571.1 1072.4L581.4 1078.7L590.7 1085.2L595.9 1089.1L600 1092.5" fill="none" stroke="#000000" stroke-width="1.30" stroke-linejoin="round"/>
<path d="M85.4 898.9L159.7 923.7L308.2 973.2L371.1 994.5L403 1005.6L429.8 1015.3L453.6 1024.2L474.2 1032.5L485.5 1037.3L495.8 1041.8L506.2 1046.6L515.4 1051.1L524.7 1055.9L533 1060.4L541.2 1065.1L548.4 1069.6L555.7 1074.2L562.9 1079.2L570.1 1084.6L576.3 1089.5L582.5 1094.7L588.7 1100.2L594.8 1106.2L600 1111.5" fill="none" stroke="#1c1cc0" stroke-width="1.50" stroke-dasharray="0.01 5.4" stroke-linecap="round" stroke-linejoin="round"/>
<path d="M85.4 899.8L260.7 958.5L317.4 977.7L360.7 992.6L395.8 1004.8L425.7 1015.7L451.5 1025.4L473.2 1034.1L484.5 1038.9L494.8 1043.5L505.1 1048.2L514.4 1052.7L523.7 1057.4L531.9 1061.9L540.2 1066.6L547.4 1070.9L554.6 1075.5L561.8 1080.4L569.1 1085.7L575.2 1090.5L581.4 1095.5L587.6 1101L593.8 1106.8L600 1113.0" fill="none" stroke="#1c1cc0" stroke-width="1.30" stroke-linejoin="round"/>
</g>
<text transform="translate(29.50 893.84) scale(1.3536 1)" font-size="16.00" fill="#000" font-family='"Liberation Serif", serif'>1000</text>
<text transform="translate(40.29 928.23) scale(1.3551 1)" font-size="16.00" fill="#000" font-family='"Liberation Serif", serif'>100</text>
<text transform="translate(51.09 962.61) scale(1.3583 1)" font-size="16.00" fill="#000" font-family='"Liberation Serif", serif'>10</text>
<text transform="translate(62.48 996.99) scale(1.2246 1)" font-size="16.00" fill="#000" font-family='"Liberation Serif", serif'>1</text>
<text transform="translate(45.48 1031.37) scale(1.3453 1)" font-size="16.00" fill="#000" font-family='"Liberation Serif", serif'>0.1</text>
<text transform="translate(34.78 1065.75) scale(1.3428 1)" font-size="16.00" fill="#000" font-family='"Liberation Serif", serif'>0.01</text>
<text transform="translate(35.74 1100.23) scale(1.4521 1)" font-size="16.15" fill="#000000" font-family='"Liberation Serif", serif'>10</text>
<text transform="translate(59.14 1092.37) scale(1.4353 1)" font-size="12.00" fill="#000000" font-family='"Liberation Serif", serif'>−3</text>
<text transform="translate(35.74 1134.61) scale(1.4521 1)" font-size="16.15" fill="#000000" font-family='"Liberation Serif", serif'>10</text>
<text transform="translate(59.16 1126.76) scale(1.4016 1)" font-size="12.00" fill="#000000" font-family='"Liberation Serif", serif'>−4</text>
<text transform="translate(35.74 1169.00) scale(1.4521 1)" font-size="16.15" fill="#000000" font-family='"Liberation Serif", serif'>10</text>
<text transform="translate(59.14 1161.14) scale(1.4353 1)" font-size="12.00" fill="#000000" font-family='"Liberation Serif", serif'>−5</text>
<text transform="translate(35.74 1203.38) scale(1.4521 1)" font-size="16.15" fill="#000000" font-family='"Liberation Serif", serif'>10</text>
<text transform="translate(59.15 1195.52) scale(1.4218 1)" font-size="12.00" fill="#000000" font-family='"Liberation Serif", serif'>−6</text>
<text transform="translate(35.74 1237.76) scale(1.4521 1)" font-size="16.15" fill="#000000" font-family='"Liberation Serif", serif'>10</text>
<text transform="translate(59.15 1229.90) scale(1.4204 1)" font-size="12.00" fill="#000000" font-family='"Liberation Serif", serif'>−7</text>
<text transform="translate(35.74 1272.14) scale(1.4521 1)" font-size="16.15" fill="#000000" font-family='"Liberation Serif", serif'>10</text>
<text transform="translate(59.14 1264.28) scale(1.4339 1)" font-size="12.00" fill="#000000" font-family='"Liberation Serif", serif'>−8</text>
<text transform="translate(67.09 1289.04) scale(1.2191 1)" font-size="16.89" fill="#000" font-family='"Liberation Serif", serif'>10</text>
<text transform="translate(87.98 1280.68) scale(1.5191 1)" font-size="12.15" fill="#000" font-family='"Liberation Serif", serif'>−5</text>
<text transform="translate(169.09 1289.04) scale(1.2191 1)" font-size="16.89" fill="#000" font-family='"Liberation Serif", serif'>10</text>
<text transform="translate(190.00 1280.68) scale(1.4835 1)" font-size="12.15" fill="#000" font-family='"Liberation Serif", serif'>−4</text>
<text transform="translate(271.09 1289.04) scale(1.2191 1)" font-size="16.89" fill="#000" font-family='"Liberation Serif", serif'>10</text>
<text transform="translate(291.98 1280.68) scale(1.5191 1)" font-size="12.15" fill="#000" font-family='"Liberation Serif", serif'>−3</text>
<text transform="translate(371.67 1289.04) scale(1.2900 1)" font-size="16.89" fill="#000" font-family='"Liberation Serif", serif'>0.01</text>
<text transform="translate(479.67 1289.04) scale(1.2847 1)" font-size="16.89" fill="#000" font-family='"Liberation Serif", serif'>0.1</text>
<text transform="translate(590.10 1289.04) scale(1.1433 1)" font-size="16.89" fill="#000" font-family='"Liberation Serif", serif'>1</text>
<text transform="translate(282.01 1324.50) scale(0.9464 1)" font-size="17.87" fill="#000" font-family='"Liberation Serif", serif'>E</text>
<text transform="translate(292.67 1329.37) scale(0.9697 1)" font-size="13.40" fill="#000" font-family='"Liberation Serif", serif'>CM</text>
<text transform="translate(320.70 1324.50) scale(0.9853 1)" font-size="18.50" fill="#000" font-family='"Liberation Serif", serif'>(MeV)</text>
<text transform="translate(15.00 1109.78) rotate(-90) scale(1.0833 1)" font-size="19.00" fill="#000" font-family='"Liberation Serif", serif'>σ</text>
<text transform="translate(15.00 1089.59) rotate(-90) scale(1.1797 1)" font-size="19.00" fill="#000" font-family='"Liberation Serif", serif'>(mb)</text>
<text transform="translate(104.78 1141.00) scale(1.2956 1)" font-size="17.72" fill="#000000" font-family='"Liberation Serif", serif'>1S</text>
<text transform="translate(105.84 1167.80) scale(1.2356 1)" font-size="17.72" fill="#d42a2a" font-family='"Liberation Serif", serif'>2S</text>
<text transform="translate(105.86 1195.60) scale(1.2077 1)" font-size="17.72" fill="#2fe08a" font-family='"Liberation Serif", serif'>2P</text>
<text transform="translate(137.62 1195.60) scale(1.2671 1)" font-size="17.60" fill="#2fe08a" font-family='"Liberation Serif", serif'>(s−wave)</text>
<text transform="translate(105.86 1222.40) scale(1.2077 1)" font-size="17.72" fill="#1c1cc0" font-family='"Liberation Serif", serif'>2P</text>
<text transform="translate(137.63 1222.40) scale(1.2524 1)" font-size="17.60" fill="#1c1cc0" font-family='"Liberation Serif", serif'>(d−wave)</text>
<text transform="translate(105.77 1249.20) scale(1.2126 1)" font-size="17.72" fill="#9a9a9a" font-family='"Liberation Serif", serif'>3P</text>
<text transform="translate(137.62 1249.20) scale(1.2671 1)" font-size="17.60" fill="#9a9a9a" font-family='"Liberation Serif", serif'>(s−wave)</text>
<text transform="translate(238.17 1141.00) scale(1.2126 1)" font-size="17.72" fill="#33dde8" font-family='"Liberation Serif", serif'>3P</text>
<text transform="translate(270.03 1141.00) scale(1.2493 1)" font-size="17.60" fill="#33dde8" font-family='"Liberation Serif", serif'>(d−wave)</text>
<text transform="translate(238.32 1167.80) scale(1.0351 1)" font-size="17.72" fill="#e8822a" font-family='"Liberation Serif", serif'>3D</text>
<text transform="translate(270.04 1167.80) scale(1.2448 1)" font-size="17.60" fill="#e8822a" font-family='"Liberation Serif", serif'>(p−wave)</text>
<text transform="translate(238.32 1195.60) scale(1.0351 1)" font-size="17.72" fill="#2a78d8" font-family='"Liberation Serif", serif'>3D</text>
<text transform="translate(270.03 1195.60) scale(1.2552 1)" font-size="17.60" fill="#2a78d8" font-family='"Liberation Serif", serif'>(f−wave)</text>
<text transform="translate(238.79 1222.40) scale(1.1735 1)" font-size="17.72" fill="#8a2be2" font-family='"Liberation Serif", serif'>4F</text>
<text transform="translate(270.03 1222.40) scale(1.2493 1)" font-size="17.60" fill="#8a2be2" font-family='"Liberation Serif", serif'>(d−wave)</text>
<text transform="translate(238.79 1249.20) scale(1.1735 1)" font-size="17.72" fill="#dd2a8a" font-family='"Liberation Serif", serif'>4F</text>
<text transform="translate(270.05 1249.20) scale(1.2342 1)" font-size="17.60" fill="#dd2a8a" font-family='"Liberation Serif", serif'>(g−wave)</text></svg></body></html>
